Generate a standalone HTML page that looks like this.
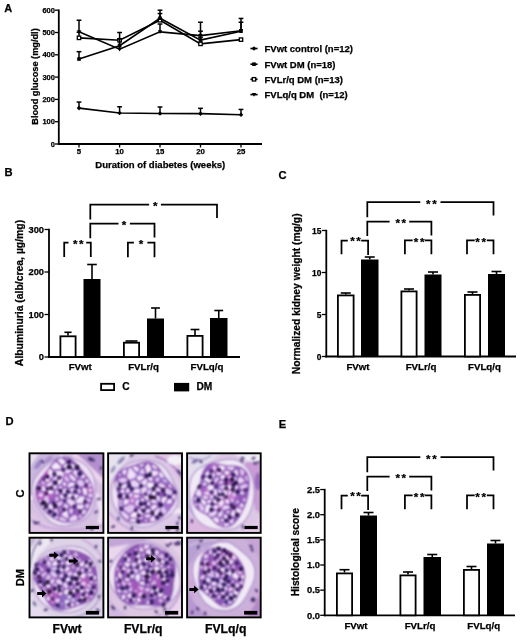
<!DOCTYPE html>
<html><head><meta charset="utf-8"><title>Figure</title>
<style>
html,body{margin:0;padding:0;background:#fff;}
svg{display:block}
text{font-family:"Liberation Sans",Arial,sans-serif;font-weight:bold;fill:#000;stroke:#000;stroke-width:0.25px}
</style></head><body>
<svg width="520" height="641" viewBox="0 0 520 641">
<rect width="520" height="641" fill="#fff"/>
<text x="4.2" y="12.3" font-size="11" text-anchor="start" >A</text>
<line x1="58.8" y1="9.5" x2="58.8" y2="144.9" stroke="#000" stroke-width="1.8" />
<line x1="57.9" y1="144" x2="262" y2="144" stroke="#000" stroke-width="1.8" />
<line x1="55.0" y1="144.0" x2="58.8" y2="144.0" stroke="#000" stroke-width="1.3" />
<text x="54.9" y="146.6" font-size="7.5" text-anchor="end" >0</text>
<line x1="55.0" y1="121.69999999999999" x2="58.8" y2="121.69999999999999" stroke="#000" stroke-width="1.3" />
<text x="54.9" y="124.29999999999998" font-size="7.5" text-anchor="end" >100</text>
<line x1="55.0" y1="99.39999999999999" x2="58.8" y2="99.39999999999999" stroke="#000" stroke-width="1.3" />
<text x="54.9" y="101.99999999999999" font-size="7.5" text-anchor="end" >200</text>
<line x1="55.0" y1="77.1" x2="58.8" y2="77.1" stroke="#000" stroke-width="1.3" />
<text x="54.9" y="79.69999999999999" font-size="7.5" text-anchor="end" >300</text>
<line x1="55.0" y1="54.79999999999998" x2="58.8" y2="54.79999999999998" stroke="#000" stroke-width="1.3" />
<text x="54.9" y="57.399999999999984" font-size="7.5" text-anchor="end" >400</text>
<line x1="55.0" y1="32.499999999999986" x2="58.8" y2="32.499999999999986" stroke="#000" stroke-width="1.3" />
<text x="54.9" y="35.09999999999999" font-size="7.5" text-anchor="end" >500</text>
<line x1="55.0" y1="10.199999999999989" x2="58.8" y2="10.199999999999989" stroke="#000" stroke-width="1.3" />
<text x="54.9" y="12.799999999999988" font-size="7.5" text-anchor="end" >600</text>
<line x1="79" y1="144" x2="79" y2="147.5" stroke="#000" stroke-width="1.3" />
<text x="79" y="154.4" font-size="7.8" text-anchor="middle" >5</text>
<line x1="119.6" y1="144" x2="119.6" y2="147.5" stroke="#000" stroke-width="1.3" />
<text x="119.6" y="154.4" font-size="7.8" text-anchor="middle" >10</text>
<line x1="160" y1="144" x2="160" y2="147.5" stroke="#000" stroke-width="1.3" />
<text x="160" y="154.4" font-size="7.8" text-anchor="middle" >15</text>
<line x1="200.5" y1="144" x2="200.5" y2="147.5" stroke="#000" stroke-width="1.3" />
<text x="200.5" y="154.4" font-size="7.8" text-anchor="middle" >20</text>
<line x1="241" y1="144" x2="241" y2="147.5" stroke="#000" stroke-width="1.3" />
<text x="241" y="154.4" font-size="7.8" text-anchor="middle" >25</text>
<text x="160.3" y="168" font-size="9.55" text-anchor="middle" >Duration of diabetes (weeks)</text>
<text x="37.7" y="76.5" font-size="9.2" text-anchor="middle" transform="rotate(-90 37.7 76.5)" >Blood glucose (mg/dl)</text>
<polyline points="79,31.83099999999999 119.6,49.22499999999998 160,31.83099999999999 200.5,35.621999999999986 241,30.71599999999998" fill="none" stroke="#000" stroke-width="1.6" stroke-linejoin="miter" />
<line x1="79" y1="31.83099999999999" x2="79" y2="20.234999999999985" stroke="#000" stroke-width="1.5" />
<line x1="76.6" y1="20.234999999999985" x2="81.4" y2="20.234999999999985" stroke="#000" stroke-width="1.5" />
<path d="M76.8 30.230999999999987L81.2 30.230999999999987L79 34.03099999999999Z" fill="#000"/>
<line x1="119.6" y1="49.22499999999998" x2="119.6" y2="40.30499999999998" stroke="#000" stroke-width="1.5" />
<line x1="117.19999999999999" y1="40.30499999999998" x2="122.0" y2="40.30499999999998" stroke="#000" stroke-width="1.5" />
<path d="M117.39999999999999 47.62499999999998L121.8 47.62499999999998L119.6 51.42499999999998Z" fill="#000"/>
<line x1="160" y1="31.83099999999999" x2="160" y2="24.02599999999999" stroke="#000" stroke-width="1.5" />
<line x1="157.6" y1="24.02599999999999" x2="162.4" y2="24.02599999999999" stroke="#000" stroke-width="1.5" />
<path d="M157.8 30.230999999999987L162.2 30.230999999999987L160 34.03099999999999Z" fill="#000"/>
<line x1="200.5" y1="35.621999999999986" x2="200.5" y2="22.241999999999983" stroke="#000" stroke-width="1.5" />
<line x1="198.1" y1="22.241999999999983" x2="202.9" y2="22.241999999999983" stroke="#000" stroke-width="1.5" />
<path d="M198.3 34.021999999999984L202.7 34.021999999999984L200.5 37.82199999999999Z" fill="#000"/>
<line x1="241" y1="30.71599999999998" x2="241" y2="18.45099999999998" stroke="#000" stroke-width="1.5" />
<line x1="238.6" y1="18.45099999999998" x2="243.4" y2="18.45099999999998" stroke="#000" stroke-width="1.5" />
<path d="M238.8 29.11599999999998L243.2 29.11599999999998L241 32.91599999999998Z" fill="#000"/>
<polyline points="79,37.85199999999999 119.6,40.30499999999998 160,20.234999999999985 200.5,43.87299999999999 241,39.63599999999998" fill="none" stroke="#000" stroke-width="1.6" stroke-linejoin="miter" />
<line x1="79" y1="37.85199999999999" x2="79" y2="32.27699999999999" stroke="#000" stroke-width="1.5" />
<line x1="76.6" y1="32.27699999999999" x2="81.4" y2="32.27699999999999" stroke="#000" stroke-width="1.5" />
<rect x="77.3" y="36.15199999999999" width="3.4" height="3.4" fill="#fff" stroke="#000" stroke-width="1.3" />
<line x1="119.6" y1="40.30499999999998" x2="119.6" y2="32.49999999999998" stroke="#000" stroke-width="1.5" />
<line x1="117.19999999999999" y1="32.49999999999998" x2="122.0" y2="32.49999999999998" stroke="#000" stroke-width="1.5" />
<rect x="117.89999999999999" y="38.604999999999976" width="3.4" height="3.4" fill="#fff" stroke="#000" stroke-width="1.3" />
<line x1="160" y1="20.234999999999985" x2="160" y2="13.544999999999984" stroke="#000" stroke-width="1.5" />
<line x1="157.6" y1="13.544999999999984" x2="162.4" y2="13.544999999999984" stroke="#000" stroke-width="1.5" />
<rect x="158.3" y="18.534999999999986" width="3.4" height="3.4" fill="#fff" stroke="#000" stroke-width="1.3" />
<line x1="200.5" y1="43.87299999999999" x2="200.5" y2="37.18299999999999" stroke="#000" stroke-width="1.5" />
<line x1="198.1" y1="37.18299999999999" x2="202.9" y2="37.18299999999999" stroke="#000" stroke-width="1.5" />
<rect x="198.8" y="42.17299999999999" width="3.4" height="3.4" fill="#fff" stroke="#000" stroke-width="1.3" />
<rect x="239.3" y="37.93599999999998" width="3.4" height="3.4" fill="#fff" stroke="#000" stroke-width="1.3" />
<polyline points="79,59.03699999999999 119.6,45.65699999999998 160,18.22799999999998 200.5,40.08199999999998 241,31.161999999999978" fill="none" stroke="#000" stroke-width="1.6" stroke-linejoin="miter" />
<line x1="79" y1="59.03699999999999" x2="79" y2="51.67799999999999" stroke="#000" stroke-width="1.5" />
<line x1="76.6" y1="51.67799999999999" x2="81.4" y2="51.67799999999999" stroke="#000" stroke-width="1.5" />
<rect x="77.2" y="57.236999999999995" width="3.6" height="3.6" fill="#000" />
<line x1="119.6" y1="45.65699999999998" x2="119.6" y2="38.966999999999985" stroke="#000" stroke-width="1.5" />
<line x1="117.19999999999999" y1="38.966999999999985" x2="122.0" y2="38.966999999999985" stroke="#000" stroke-width="1.5" />
<rect x="117.8" y="43.856999999999985" width="3.6" height="3.6" fill="#000" />
<line x1="160" y1="18.22799999999998" x2="160" y2="10.19999999999998" stroke="#000" stroke-width="1.5" />
<line x1="157.6" y1="10.19999999999998" x2="162.4" y2="10.19999999999998" stroke="#000" stroke-width="1.5" />
<rect x="158.2" y="16.42799999999998" width="3.6" height="3.6" fill="#000" />
<line x1="200.5" y1="40.08199999999998" x2="200.5" y2="31.161999999999978" stroke="#000" stroke-width="1.5" />
<line x1="198.1" y1="31.161999999999978" x2="202.9" y2="31.161999999999978" stroke="#000" stroke-width="1.5" />
<rect x="198.7" y="38.28199999999998" width="3.6" height="3.6" fill="#000" />
<line x1="241" y1="31.161999999999978" x2="241" y2="22.241999999999976" stroke="#000" stroke-width="1.5" />
<line x1="238.6" y1="22.241999999999976" x2="243.4" y2="22.241999999999976" stroke="#000" stroke-width="1.5" />
<rect x="239.2" y="29.361999999999977" width="3.6" height="3.6" fill="#000" />
<polyline points="79,108.097 119.6,113.003 160,113.449 200.5,113.672 241,114.78699999999999" fill="none" stroke="#000" stroke-width="1.6" stroke-linejoin="miter" />
<line x1="79" y1="108.097" x2="79" y2="102.076" stroke="#000" stroke-width="1.5" />
<line x1="76.6" y1="102.076" x2="81.4" y2="102.076" stroke="#000" stroke-width="1.5" />
<path d="M76.7 108.097L79 105.797L81.3 108.097L79 110.39699999999999Z" fill="#000"/>
<line x1="119.6" y1="113.003" x2="119.6" y2="106.759" stroke="#000" stroke-width="1.5" />
<line x1="117.19999999999999" y1="106.759" x2="122.0" y2="106.759" stroke="#000" stroke-width="1.5" />
<path d="M117.3 113.003L119.6 110.703L121.89999999999999 113.003L119.6 115.303Z" fill="#000"/>
<line x1="160" y1="113.449" x2="160" y2="106.982" stroke="#000" stroke-width="1.5" />
<line x1="157.6" y1="106.982" x2="162.4" y2="106.982" stroke="#000" stroke-width="1.5" />
<path d="M157.7 113.449L160 111.149L162.3 113.449L160 115.749Z" fill="#000"/>
<line x1="200.5" y1="113.672" x2="200.5" y2="108.32" stroke="#000" stroke-width="1.5" />
<line x1="198.1" y1="108.32" x2="202.9" y2="108.32" stroke="#000" stroke-width="1.5" />
<path d="M198.2 113.672L200.5 111.372L202.8 113.672L200.5 115.972Z" fill="#000"/>
<line x1="241" y1="114.78699999999999" x2="241" y2="109.43499999999999" stroke="#000" stroke-width="1.5" />
<line x1="238.6" y1="109.43499999999999" x2="243.4" y2="109.43499999999999" stroke="#000" stroke-width="1.5" />
<path d="M238.7 114.78699999999999L241 112.487L243.3 114.78699999999999L241 117.08699999999999Z" fill="#000"/>
<line x1="250.4" y1="48.5" x2="257.6" y2="48.5" stroke="#000" stroke-width="1.6" />
<path d="M251.7 48.5L254 46.2L256.3 48.5L254 50.8Z" fill="#000"/>
<text x="264.5" y="51.9" font-size="9.5" text-anchor="start" xml:space="preserve">FVwt control (n=12)</text>
<line x1="250.4" y1="64.2" x2="257.6" y2="64.2" stroke="#000" stroke-width="1.6" />
<rect x="252.2" y="62.400000000000006" width="3.6" height="3.6" fill="#000" />
<text x="264.5" y="67.60000000000001" font-size="9.5" text-anchor="start" xml:space="preserve">FVwt DM (n=18)</text>
<line x1="250.4" y1="79.3" x2="257.6" y2="79.3" stroke="#000" stroke-width="1.6" />
<rect x="252.3" y="77.6" width="3.4" height="3.4" fill="#fff" stroke="#000" stroke-width="1.3" />
<text x="264.5" y="82.7" font-size="9.5" text-anchor="start" xml:space="preserve">FVLr/q DM (n=13)</text>
<line x1="250.4" y1="94.6" x2="257.6" y2="94.6" stroke="#000" stroke-width="1.6" />
<path d="M251.8 93.0L256.2 93.0L254 96.8Z" fill="#000"/>
<text x="264.5" y="98.0" font-size="9.5" text-anchor="start" xml:space="preserve">FVLq/q DM  (n=12)</text>
<text x="4.5" y="176.1" font-size="11.2" text-anchor="start" >B</text>
<line x1="49" y1="228.8" x2="49" y2="357.9" stroke="#000" stroke-width="1.8" />
<line x1="48.1" y1="357" x2="240" y2="357" stroke="#000" stroke-width="1.8" />
<line x1="44.5" y1="357.0" x2="49" y2="357.0" stroke="#000" stroke-width="1.3" />
<text x="44" y="360.3" font-size="9.3" text-anchor="end" >0</text>
<line x1="44.5" y1="314.5" x2="49" y2="314.5" stroke="#000" stroke-width="1.3" />
<text x="44" y="317.8" font-size="9.3" text-anchor="end" >100</text>
<line x1="44.5" y1="272.0" x2="49" y2="272.0" stroke="#000" stroke-width="1.3" />
<text x="44" y="275.3" font-size="9.3" text-anchor="end" >200</text>
<line x1="44.5" y1="229.5" x2="49" y2="229.5" stroke="#000" stroke-width="1.3" />
<text x="44" y="232.8" font-size="9.3" text-anchor="end" >300</text>
<text x="22.8" y="293" font-size="10.4" text-anchor="middle" transform="rotate(-90 22.8 293)" >Albuminuria (alb/crea, µg/mg)</text>
<line x1="68.0" y1="335.4" x2="68.0" y2="332.3" stroke="#000" stroke-width="1.6" />
<line x1="64.4" y1="332.3" x2="71.6" y2="332.3" stroke="#000" stroke-width="1.6" />
<rect x="60.4" y="336.29999999999995" width="15.2" height="20.700000000000024" fill="#fff" stroke="#000" stroke-width="1.8" />
<line x1="92.0" y1="279" x2="92.0" y2="264.5" stroke="#000" stroke-width="1.6" />
<line x1="87.2" y1="264.5" x2="96.8" y2="264.5" stroke="#000" stroke-width="1.6" />
<rect x="83.5" y="279" width="17.0" height="78" fill="#000" />
<line x1="131.5" y1="341.8" x2="131.5" y2="341.0" stroke="#000" stroke-width="1.6" />
<line x1="125.5" y1="341.0" x2="137.5" y2="341.0" stroke="#000" stroke-width="1.6" />
<rect x="123.9" y="342.7" width="15.2" height="14.299999999999988" fill="#fff" stroke="#000" stroke-width="1.8" />
<line x1="155.5" y1="318.5" x2="155.5" y2="308" stroke="#000" stroke-width="1.6" />
<line x1="151.1" y1="308" x2="159.9" y2="308" stroke="#000" stroke-width="1.6" />
<rect x="147" y="318.5" width="17" height="38.5" fill="#000" />
<line x1="195.0" y1="335" x2="195.0" y2="329.5" stroke="#000" stroke-width="1.6" />
<line x1="190.6" y1="329.5" x2="199.4" y2="329.5" stroke="#000" stroke-width="1.6" />
<rect x="187.4" y="335.9" width="15.2" height="21.1" fill="#fff" stroke="#000" stroke-width="1.8" />
<line x1="218.75" y1="318" x2="218.75" y2="310.5" stroke="#000" stroke-width="1.6" />
<line x1="214.35" y1="310.5" x2="223.15" y2="310.5" stroke="#000" stroke-width="1.6" />
<rect x="210" y="318" width="17.5" height="39" fill="#000" />
<text x="80.2" y="369.6" font-size="9.7" text-anchor="middle" >FVwt</text>
<text x="143.5" y="369.6" font-size="9.7" text-anchor="middle" >FVLr/q</text>
<text x="207" y="369.6" font-size="9.7" text-anchor="middle" >FVLq/q</text>
<polyline points="90.3,219.5 90.3,204.5 149.1,204.5" fill="none" stroke="#000" stroke-width="1.75" stroke-linejoin="miter" />
<polyline points="160.9,204.5 217,204.5 217,218" fill="none" stroke="#000" stroke-width="1.75" stroke-linejoin="miter" />
<text x="152.94" y="210.13" font-size="11.6" text-anchor="start" letter-spacing="1.6">*</text>
<polyline points="90.3,238.3 90.3,223.5 118.5,223.5" fill="none" stroke="#000" stroke-width="1.75" stroke-linejoin="miter" />
<polyline points="129.9,223.5 154.5,223.5 154.5,237.4" fill="none" stroke="#000" stroke-width="1.75" stroke-linejoin="miter" />
<text x="121.84" y="229.13" font-size="11.6" text-anchor="start" letter-spacing="1.6">*</text>
<polyline points="64.2,257 64.2,242.7 68.5,242.7" fill="none" stroke="#000" stroke-width="1.75" stroke-linejoin="miter" />
<polyline points="86.2,242.7 90.8,242.7 90.8,257" fill="none" stroke="#000" stroke-width="1.75" stroke-linejoin="miter" />
<text x="72.98" y="248.33" font-size="11.6" text-anchor="start" letter-spacing="1.6">**</text>
<polyline points="127.9,257.2 127.9,242.5 133.9,242.5" fill="none" stroke="#000" stroke-width="1.75" stroke-linejoin="miter" />
<polyline points="147.4,242.5 154.5,242.5 154.5,257.2" fill="none" stroke="#000" stroke-width="1.75" stroke-linejoin="miter" />
<text x="138.84" y="248.13" font-size="11.6" text-anchor="start" letter-spacing="1.6">*</text>
<rect x="101.1" y="383.8" width="13" height="6.3" fill="#fff" stroke="#000" stroke-width="1.8" />
<text x="122.2" y="390.3" font-size="10.2" text-anchor="start" >C</text>
<rect x="174" y="382.9" width="15.2" height="8.5" fill="#000" />
<text x="196.4" y="390.3" font-size="10.2" text-anchor="start" >DM</text>
<text x="278.6" y="179.4" font-size="11.2" text-anchor="start" >C</text>
<line x1="326.3" y1="229.8" x2="326.3" y2="357.4" stroke="#000" stroke-width="1.8" />
<line x1="325.40000000000003" y1="356.5" x2="516" y2="356.5" stroke="#000" stroke-width="1.8" />
<line x1="321.8" y1="356.5" x2="326.3" y2="356.5" stroke="#000" stroke-width="1.3" />
<text x="321.3" y="359.7" font-size="8.4" text-anchor="end" >0</text>
<line x1="321.8" y1="314.5" x2="326.3" y2="314.5" stroke="#000" stroke-width="1.3" />
<text x="321.3" y="317.7" font-size="8.4" text-anchor="end" >5</text>
<line x1="321.8" y1="272.5" x2="326.3" y2="272.5" stroke="#000" stroke-width="1.3" />
<text x="321.3" y="275.7" font-size="8.4" text-anchor="end" >10</text>
<line x1="321.8" y1="230.5" x2="326.3" y2="230.5" stroke="#000" stroke-width="1.3" />
<text x="321.3" y="233.7" font-size="8.4" text-anchor="end" >15</text>
<text x="299.8" y="293.8" font-size="10.3" text-anchor="middle" transform="rotate(-90 299.8 293.8)" >Normalized kidney weight (mg/g)</text>
<line x1="345.75" y1="294.5" x2="345.75" y2="293" stroke="#000" stroke-width="1.6" />
<line x1="340.75" y1="293" x2="350.75" y2="293" stroke="#000" stroke-width="1.6" />
<rect x="337.9" y="295.4" width="15.7" height="61.1" fill="#fff" stroke="#000" stroke-width="1.8" />
<line x1="369.75" y1="259.5" x2="369.75" y2="257" stroke="#000" stroke-width="1.6" />
<line x1="364.75" y1="257" x2="374.75" y2="257" stroke="#000" stroke-width="1.6" />
<rect x="361" y="259.5" width="17.5" height="97.0" fill="#000" />
<line x1="409.0" y1="290.5" x2="409.0" y2="289" stroke="#000" stroke-width="1.6" />
<line x1="404.0" y1="289" x2="414.0" y2="289" stroke="#000" stroke-width="1.6" />
<rect x="401.4" y="291.4" width="15.2" height="65.1" fill="#fff" stroke="#000" stroke-width="1.8" />
<line x1="433.0" y1="274.5" x2="433.0" y2="272" stroke="#000" stroke-width="1.6" />
<line x1="428.0" y1="272" x2="438.0" y2="272" stroke="#000" stroke-width="1.6" />
<rect x="424.5" y="274.5" width="17.0" height="82.0" fill="#000" />
<line x1="472.5" y1="294" x2="472.5" y2="292" stroke="#000" stroke-width="1.6" />
<line x1="467.5" y1="292" x2="477.5" y2="292" stroke="#000" stroke-width="1.6" />
<rect x="464.9" y="294.9" width="15.2" height="61.6" fill="#fff" stroke="#000" stroke-width="1.8" />
<line x1="496.5" y1="274" x2="496.5" y2="271.5" stroke="#000" stroke-width="1.6" />
<line x1="491.5" y1="271.5" x2="501.5" y2="271.5" stroke="#000" stroke-width="1.6" />
<rect x="488" y="274" width="17" height="82.5" fill="#000" />
<text x="358" y="370" font-size="9.7" text-anchor="middle" >FVwt</text>
<text x="421" y="370" font-size="9.7" text-anchor="middle" >FVLr/q</text>
<text x="484.5" y="370" font-size="9.7" text-anchor="middle" >FVLq/q</text>
<polyline points="367.3,217.2 367.3,202.2 420.3,202.2" fill="none" stroke="#000" stroke-width="1.75" stroke-linejoin="miter" />
<polyline points="440.5,202.2 493.5,202.2 493.5,215.5" fill="none" stroke="#000" stroke-width="1.75" stroke-linejoin="miter" />
<text x="426.08" y="207.83" font-size="11.6" text-anchor="start" letter-spacing="1.6">**</text>
<polyline points="367.3,236 367.3,221.6 389.6,221.6" fill="none" stroke="#000" stroke-width="1.75" stroke-linejoin="miter" />
<polyline points="409.2,221.6 431.4,221.6 431.4,235.4" fill="none" stroke="#000" stroke-width="1.75" stroke-linejoin="miter" />
<text x="395.38" y="227.23" font-size="11.6" text-anchor="start" letter-spacing="1.6">**</text>
<polyline points="341.5,254.2 341.5,240.5 347.8,240.5" fill="none" stroke="#000" stroke-width="1.75" stroke-linejoin="miter" />
<polyline points="361.2,240.5 368.1,240.5 368.1,254.9" fill="none" stroke="#000" stroke-width="1.75" stroke-linejoin="miter" />
<text x="350.18" y="245.33" font-size="11.6" text-anchor="start" letter-spacing="1.6">**</text>
<polyline points="404.9,254.2 404.9,240.3 412.6,240.3" fill="none" stroke="#000" stroke-width="1.75" stroke-linejoin="miter" />
<polyline points="424.7,240.3 431.4,240.3 431.4,254.2" fill="none" stroke="#000" stroke-width="1.75" stroke-linejoin="miter" />
<text x="413.78" y="245.53" font-size="11.6" text-anchor="start" letter-spacing="1.6">**</text>
<polyline points="467,254.2 467,240.3 474.7,240.3" fill="none" stroke="#000" stroke-width="1.75" stroke-linejoin="miter" />
<polyline points="486.8,240.3 493.5,240.3 493.5,254.2" fill="none" stroke="#000" stroke-width="1.75" stroke-linejoin="miter" />
<text x="475.28" y="245.53" font-size="11.6" text-anchor="start" letter-spacing="1.6">**</text>
<text x="5.4" y="425.3" font-size="11.2" text-anchor="start" >D</text>
<filter id="bl" x="-5%" y="-5%" width="110%" height="110%"><feGaussianBlur stdDeviation="0.8"/></filter><filter id="bl2" x="-5%" y="-5%" width="110%" height="110%"><feGaussianBlur stdDeviation="0.8"/></filter>
<clipPath id="cp1"><rect x="29.5" y="453.3" width="73.9" height="79.6"/></clipPath>
<g clip-path="url(#cp1)"><g filter="url(#bl)">
<rect x="27.5" y="451.3" width="77.9" height="83.6" fill="#d6c0e2" />
<g transform="translate(29.5 453.3)"><path d="M0 0H36L0 48Z" fill="#c9b6de"/><path d="M0 0H10L0 14Z" fill="#e6def0"/><ellipse cx="9" cy="11" rx="6" ry="2.5" fill="#9c84c4" transform="rotate(-52 9 11)"/><ellipse cx="19" cy="6" rx="5" ry="2" fill="#a58cca" transform="rotate(-40 19 6)"/><path d="M1 46L33 2" stroke="#f2eaf7" stroke-width="3.2"/><path d="M46 0H75V34Z" fill="#b38fcd"/><path d="M44 1L75 30" stroke="#ead4ee" stroke-width="5.5"/><ellipse cx="62" cy="6" rx="4" ry="1.6" fill="#4a3278" transform="rotate(25 62 6)"/><path d="M0 56Q18 74 45 78T75 64V80H0Z" fill="#dec4e6"/><path d="M0 66Q25 84 75 72" stroke="#b690d2" stroke-width="1.3" fill="none"/><path d="M66 40Q75 55 70 70" stroke="#f0e4f4" stroke-width="4" fill="none"/></g>
<path d="M94.8 482.3 L95.3 486.7 L95.4 491.1 L95.3 495.3 L94.9 499.6 L94.2 503.8 L93.0 508.0 L91.2 511.8 L88.7 515.3 L85.8 518.2 L82.4 520.5 L78.8 522.4 L75.0 523.9 L71.1 525.1 L67.1 525.9 L62.9 526.1 L58.6 525.6 L54.5 524.2 L50.7 521.9 L47.4 518.9 L44.5 515.6 L41.9 512.0 L39.4 508.5 L37.1 504.7 L35.0 500.8 L33.3 496.5 L32.2 492.0 L32.1 487.3 L33.0 482.9 L34.8 478.7 L37.1 475.1 L39.8 471.9 L42.5 469.0 L45.3 466.2 L48.3 463.6 L51.5 461.2 L55.0 459.1 L58.8 457.7 L62.9 457.1 L67.1 457.1 L71.3 457.9 L75.4 459.2 L79.4 461.0 L83.1 463.3 L86.6 466.2 L89.6 469.6 L92.0 473.6 L93.8 477.8Z" fill="#ede2f3" stroke="#a887c9" stroke-width="1.1"/>
<clipPath id="tc1"><path d="M91.7 483.2 L93.0 487.1 L93.7 491.2 L93.7 495.2 L93.1 499.2 L92.1 503.1 L90.7 506.8 L89.0 510.3 L86.9 513.6 L84.4 516.5 L81.4 519.0 L78.1 520.9 L74.5 522.1 L70.7 522.8 L67.0 522.8 L63.2 522.4 L59.5 521.5 L55.9 520.1 L52.5 518.3 L49.3 516.1 L46.3 513.6 L43.5 510.7 L41.0 507.5 L38.7 504.0 L36.8 500.2 L35.5 496.1 L35.0 491.9 L35.4 487.7 L36.6 483.7 L38.6 480.2 L40.8 477.2 L43.2 474.4 L45.4 471.8 L47.6 469.0 L49.7 465.9 L52.2 462.7 L55.2 459.8 L58.8 457.7 L62.8 456.8 L67.0 457.2 L71.0 458.8 L74.6 461.3 L77.6 464.3 L80.3 467.4 L82.8 470.4 L85.3 473.4 L87.7 476.4 L89.9 479.6Z"/></clipPath>
<path d="M91.7 483.2 L93.0 487.1 L93.7 491.2 L93.7 495.2 L93.1 499.2 L92.1 503.1 L90.7 506.8 L89.0 510.3 L86.9 513.6 L84.4 516.5 L81.4 519.0 L78.1 520.9 L74.5 522.1 L70.7 522.8 L67.0 522.8 L63.2 522.4 L59.5 521.5 L55.9 520.1 L52.5 518.3 L49.3 516.1 L46.3 513.6 L43.5 510.7 L41.0 507.5 L38.7 504.0 L36.8 500.2 L35.5 496.1 L35.0 491.9 L35.4 487.7 L36.6 483.7 L38.6 480.2 L40.8 477.2 L43.2 474.4 L45.4 471.8 L47.6 469.0 L49.7 465.9 L52.2 462.7 L55.2 459.8 L58.8 457.7 L62.8 456.8 L67.0 457.2 L71.0 458.8 L74.6 461.3 L77.6 464.3 L80.3 467.4 L82.8 470.4 L85.3 473.4 L87.7 476.4 L89.9 479.6Z" fill="#9058b8"/>
<g clip-path="url(#tc1)">
<ellipse cx="90.6" cy="488.3" rx="7.3" ry="5.5" fill="#c868cc" opacity="0.6"/>
<ellipse cx="47.9" cy="473.0" rx="4.3" ry="3.1" fill="#c868cc" opacity="0.6"/>
<ellipse cx="46.2" cy="476.5" rx="5.6" ry="5.4" fill="#c868cc" opacity="0.6"/>
<ellipse cx="44.1" cy="488.7" rx="6.5" ry="5.6" fill="#c078d0" opacity="0.6"/>
<ellipse cx="55.6" cy="476.2" rx="6.8" ry="6.7" fill="#a56ecc" opacity="0.6"/>
<ellipse cx="61.1" cy="475.8" rx="5.1" ry="4.2" fill="#a56ecc" opacity="0.6"/>
<ellipse cx="57.0" cy="487.8" rx="4.5" ry="4.2" fill="#a56ecc" opacity="0.6"/>
<ellipse cx="88.4" cy="484.5" rx="4.0" ry="3.8" fill="#a56ecc" opacity="0.6"/>
<ellipse cx="39.4" cy="496.9" rx="6.0" ry="3.3" fill="#c868cc" opacity="0.6"/>
<ellipse cx="67.4" cy="476.7" rx="4.4" ry="4.3" fill="#c078d0" opacity="0.6"/>
<ellipse cx="65.5" cy="481.5" rx="5.2" ry="3.4" fill="#a56ecc" opacity="0.6"/>
<ellipse cx="47.1" cy="495.9" rx="7.4" ry="3.8" fill="#c868cc" opacity="0.6"/>
</g>
<path d="M62.3 479.7 L61.8 478.4 L59.9 478.6 L56.8 482.2 L56.8 483.0 L58.2 484.3 L60.5 483.8Z" fill="#f6ecfb"/>
<path d="M91.2 497.2 L92.2 496.7 L92.2 493.8 L91.6 493.6 L88.6 494.5 L88.0 495.3 L88.2 496.0Z" fill="#f0e0f8"/>
<path d="M71.6 497.4 L72.3 496.9 L72.5 493.9 L68.8 492.7 L68.1 492.8 L66.5 495.6 L66.7 497.3 L67.2 497.6Z" fill="#f0e0f8"/>
<path d="M71.5 508.3 L69.6 510.3 L70.2 513.3 L70.8 513.8 L72.1 512.8 L72.6 508.9 L72.2 508.4Z" fill="#f0e0f8"/>
<path d="M47.1 495.6 L46.2 495.8 L43.8 499.5 L44.7 502.0 L46.2 502.9 L48.7 502.1 L49.1 501.6 L47.8 496.2Z" fill="#e0c8f0"/>
<path d="M71.2 463.4 L70.6 463.4 L70.2 463.9 L70.5 466.5 L73.3 468.1 L75.4 467.2 L75.3 466.2Z" fill="#f0e0f8"/>
<path d="M42.0 483.8 L44.5 484.4 L45.2 483.9 L45.1 483.4 L43.4 480.8 L42.8 480.8 L41.4 482.1Z" fill="#e0c8f0"/>
<path d="M75.8 479.9 L75.7 479.1 L71.4 474.7 L70.8 474.6 L69.4 475.4 L69.4 476.1 L72.4 480.3 L74.9 480.9Z" fill="#f3e6f9"/>
<path d="M61.9 464.7 L62.9 464.8 L65.3 462.4 L65.4 461.7 L62.1 458.5 L59.3 459.0 L58.1 459.7 L58.0 460.5Z" fill="#f3e6f9"/>
<path d="M66.8 491.7 L66.6 489.2 L66.0 488.6 L64.9 488.5 L61.4 491.5 L61.7 492.1 L65.0 494.0 L65.6 493.7Z" fill="#f0e0f8"/>
<path d="M40.6 488.4 L40.9 489.8 L44.7 491.0 L45.4 490.7 L46.0 488.9 L45.2 487.2 L44.7 486.9 L42.1 486.7Z" fill="#f0e0f8"/>
<path d="M89.1 504.3 L85.5 503.5 L85.1 504.0 L85.9 507.4 L87.1 508.6 L87.7 508.7 L89.2 506.1 L89.5 504.8Z" fill="#e0c8f0"/>
<path d="M47.6 492.1 L47.8 492.8 L49.3 493.7 L52.4 493.4 L53.0 492.9 L53.1 491.2 L50.5 489.4 L48.6 489.9Z" fill="#f6ecfb"/>
<path d="M47.4 483.7 L46.8 485.7 L47.8 487.5 L48.5 487.7 L50.7 487.1 L53.0 482.9 L51.1 481.4Z" fill="#e8d4f4"/>
<path d="M53.9 516.5 L54.0 517.5 L56.8 519.0 L57.4 518.7 L58.2 516.9 L57.8 516.2 L55.1 515.6Z" fill="#e8d4f4"/>
<path d="M45.1 506.2 L45.0 505.1 L43.7 504.3 L41.7 505.5 L42.1 506.6 L43.5 508.0 L44.1 507.8Z" fill="#f0e0f8"/>
<path d="M86.4 482.6 L87.3 482.9 L88.7 481.6 L88.3 480.5 L87.0 479.0 L85.4 480.1Z" fill="#f6ecfb"/>
<path d="M66.8 508.4 L68.3 507.0 L68.4 506.4 L65.8 503.5 L65.1 503.4 L63.6 506.5 L64.7 508.3Z" fill="#e8d4f4"/>
<path d="M62.7 470.9 L62.0 470.4 L55.2 471.4 L54.6 472.2 L55.1 473.6 L59.6 476.8 L62.1 476.7 L63.9 474.5Z" fill="#f0e0f8"/>
<path d="M83.6 474.1 L80.8 475.0 L80.3 476.9 L80.7 477.7 L83.3 478.2 L85.3 476.8 L85.3 476.1Z" fill="#e8d4f4"/>
<path d="M66.0 500.1 L66.1 500.8 L70.8 505.7 L73.9 505.7 L75.0 504.3 L74.3 500.7 L72.6 499.0 L66.8 499.2Z" fill="#e8d4f4"/>
<path d="M51.1 503.9 L47.5 505.1 L47.1 505.7 L50.4 510.4 L50.9 510.7 L51.8 510.4 L54.0 506.0 L53.2 504.3Z" fill="#e8d4f4"/>
<path d="M45.6 509.6 L45.6 510.4 L47.1 511.9 L48.1 511.9 L48.2 511.1 L46.8 509.2 L46.1 509.1Z" fill="#e8d4f4"/>
<path d="M77.4 490.8 L77.5 491.4 L79.4 493.0 L80.4 492.9 L79.5 489.3 L78.0 489.1Z" fill="#f0e0f8"/>
<path d="M89.7 488.6 L88.9 489.2 L89.3 491.5 L89.9 491.9 L91.4 491.5 L91.8 490.9 L91.4 489.0Z" fill="#f0e0f8"/>
<path d="M53.1 479.2 L53.3 480.0 L54.3 480.9 L54.9 480.9 L57.1 478.5 L57.1 477.8 L55.4 476.4 L54.8 476.4Z" fill="#e8d4f4"/>
<path d="M70.1 517.9 L69.2 519.7 L69.6 521.1 L70.1 521.4 L74.1 520.8 L76.8 519.9 L77.2 519.4 L76.9 516.1 L74.1 515.0Z" fill="#e8d4f4"/>
<path d="M64.5 482.3 L63.5 482.3 L62.8 484.1 L64.5 486.1 L65.1 486.2 L65.7 485.7 L66.0 483.8Z" fill="#f6ecfb"/>
<path d="M55.5 493.5 L55.9 494.2 L57.2 494.2 L59.1 492.4 L59.1 491.6 L57.6 490.5 L56.0 491.1Z" fill="#e8d4f4"/>
<path d="M77.3 485.1 L77.7 485.6 L81.1 486.6 L84.1 485.5 L84.5 484.8 L82.7 480.6 L79.2 479.8 L78.4 480.2 L77.0 482.5Z" fill="#e0c8f0"/>
<path d="M38.7 494.9 L38.8 496.0 L41.2 496.7 L42.8 494.4 L42.4 493.8 L40.4 493.3Z" fill="#f6ecfb"/>
<path d="M54.9 513.5 L57.6 514.3 L58.3 513.7 L56.6 508.0 L56.0 507.5 L55.3 507.9 L53.5 511.4Z" fill="#e0c8f0"/>
<path d="M55.3 500.3 L55.5 500.9 L56.1 501.1 L58.6 499.6 L58.6 499.0 L57.0 496.7 L56.0 497.1Z" fill="#e8d4f4"/>
<path d="M76.3 500.2 L76.0 500.9 L76.9 503.3 L83.2 502.7 L84.2 501.5 L84.4 497.4 L83.0 496.5 L80.4 496.6Z" fill="#f3e6f9"/>
<path d="M67.2 518.1 L68.0 518.0 L68.3 517.2 L67.1 511.0 L66.5 510.5 L64.7 510.5 L61.8 515.2Z" fill="#f3e6f9"/>
<path d="M68.4 484.1 L68.0 487.0 L68.6 487.2 L74.5 485.3 L74.9 484.8 L74.7 483.5 L71.5 482.6Z" fill="#f6ecfb"/>
<path d="M85.1 509.9 L84.3 509.7 L81.4 511.7 L81.3 512.9 L83.6 514.3 L84.3 514.2 L86.4 511.4Z" fill="#e8d4f4"/>
<path d="M64.4 496.7 L61.1 494.4 L60.5 494.6 L59.6 495.7 L61.6 498.8 L64.1 499.0 L64.6 498.1Z" fill="#f0e0f8"/>
<path d="M51.6 466.5 L51.6 467.4 L54.0 469.3 L60.7 468.5 L61.2 467.9 L61.0 466.9 L56.1 461.9 L53.6 463.9Z" fill="#f6ecfb"/>
<path d="M55.9 505.0 L57.6 506.0 L61.1 505.4 L62.8 501.7 L62.3 501.3 L60.7 501.2 L55.9 503.8Z" fill="#e0c8f0"/>
<path d="M55.5 484.5 L54.5 484.5 L52.8 487.3 L53.0 488.0 L54.6 489.0 L56.6 487.9 L56.7 485.8Z" fill="#e8d4f4"/>
<path d="M67.5 459.1 L66.8 459.3 L66.6 460.1 L67.4 460.8 L68.5 460.8 L68.7 459.8Z" fill="#e0c8f0"/>
<path d="M65.2 470.2 L64.8 470.9 L65.6 473.1 L66.8 473.6 L70.5 472.1 L71.5 470.2 L71.2 469.6 L69.1 468.5Z" fill="#e8d4f4"/>
<path d="M50.2 513.5 L50.1 514.3 L51.4 515.3 L52.0 515.4 L52.5 514.9 L52.5 514.2 L51.6 513.1 L50.7 513.0Z" fill="#f0e0f8"/>
<path d="M76.1 505.9 L76.2 506.8 L80.1 509.9 L83.6 507.5 L83.1 505.1 L82.6 504.6 L76.8 505.2Z" fill="#f0e0f8"/>
<path d="M79.3 515.7 L79.1 517.4 L79.7 517.9 L80.5 517.7 L81.9 516.3 L81.7 515.7 L80.5 515.0Z" fill="#f3e6f9"/>
<path d="M38.1 485.1 L38.2 485.8 L38.8 486.0 L39.7 484.9 L38.9 484.1Z" fill="#f6ecfb"/>
<path d="M66.6 476.4 L65.3 476.2 L64.2 478.0 L64.6 479.0 L67.3 481.6 L67.9 481.7 L69.2 481.1 L69.4 480.4Z" fill="#e0c8f0"/>
<path d="M84.1 494.6 L85.5 495.3 L86.9 493.4 L86.2 488.0 L85.7 487.5 L83.0 488.4 L82.7 488.9Z" fill="#f6ecfb"/>
<path d="M74.3 470.2 L73.0 472.5 L73.0 473.1 L77.0 477.2 L77.7 477.2 L78.7 473.9 L76.8 469.7 L76.1 469.3Z" fill="#e8d4f4"/>
<path d="M49.4 480.5 L49.6 479.6 L47.3 477.7 L45.1 479.1 L46.8 482.0Z" fill="#f6ecfb"/>
<path d="M87.5 498.1 L86.6 498.5 L86.6 500.7 L89.7 501.9 L90.3 501.8 L90.8 499.5Z" fill="#e0c8f0"/>
<path d="M60.2 510.3 L61.0 510.7 L61.7 510.0 L61.7 509.3 L61.1 508.5 L59.9 508.8Z" fill="#e0c8f0"/>
<path d="M74.5 493.5 L73.8 497.7 L75.2 498.9 L78.3 496.4 L78.5 495.7 L75.6 493.1Z" fill="#f0e0f8"/>
<path d="M87.8 485.2 L87.6 485.9 L88.1 486.4 L90.7 486.6 L91.3 486.1 L90.7 483.9 L90.2 483.5 L89.6 483.6Z" fill="#f0e0f8"/>
<path d="M53.3 474.1 L52.6 471.3 L50.0 469.0 L49.2 469.1 L48.4 470.2 L48.3 476.3 L50.4 478.0 L51.0 478.1Z" fill="#f3e6f9"/>
<path d="M62.2 488.0 L62.4 487.1 L61.1 485.8 L58.9 486.4 L58.8 488.4 L60.0 489.3 L60.6 489.3Z" fill="#e0c8f0"/>
<path d="M63.6 467.4 L64.5 468.0 L67.9 466.5 L68.1 465.9 L67.8 463.6 L66.8 463.6 L63.7 466.6Z" fill="#f6ecfb"/>
<path d="M39.8 499.7 L39.1 499.9 L38.9 500.6 L40.1 503.0 L40.8 503.3 L41.8 502.7 L41.9 502.1 L41.2 500.3Z" fill="#e0c8f0"/>
<path d="M74.2 491.0 L74.7 488.1 L74.0 487.9 L69.3 489.4 L68.9 490.3 L69.4 490.8 L73.3 491.8Z" fill="#f0e0f8"/>
<path d="M61.0 517.2 L60.1 517.5 L59.4 519.1 L59.7 519.8 L63.5 520.8 L65.9 521.1 L66.5 520.8 L66.3 519.8Z" fill="#f0e0f8"/>
</g><g filter="url(#bl2)">
<ellipse cx="46.1" cy="506.3" rx="2.4" ry="1.5" fill="#140826" transform="rotate(143 46.1 506.3)"/>
<ellipse cx="76.6" cy="486.6" rx="2.4" ry="1.6" fill="#281656" transform="rotate(97 76.6 486.6)"/>
<ellipse cx="77.0" cy="467.6" rx="2.5" ry="1.9" fill="#140826" transform="rotate(83 77.0 467.6)"/>
<ellipse cx="47.5" cy="488.7" rx="1.8" ry="1.5" fill="#24124a" transform="rotate(48 47.5 488.7)"/>
<ellipse cx="72.9" cy="498.1" rx="2.2" ry="1.3" fill="#1c0c38" transform="rotate(79 72.9 498.1)"/>
<ellipse cx="85.0" cy="501.9" rx="2.1" ry="1.5" fill="#281656" transform="rotate(82 85.0 501.9)"/>
<ellipse cx="79.8" cy="473.8" rx="2.4" ry="2.3" fill="#2e1a5a" transform="rotate(149 79.8 473.8)"/>
<ellipse cx="68.9" cy="462.0" rx="2.1" ry="2.0" fill="#24124a" transform="rotate(42 68.9 462.0)"/>
<ellipse cx="53.5" cy="503.3" rx="1.8" ry="1.6" fill="#2e1a5a" transform="rotate(49 53.5 503.3)"/>
<ellipse cx="86.2" cy="485.7" rx="2.0" ry="1.5" fill="#2e1a5a" transform="rotate(105 86.2 485.7)"/>
<ellipse cx="60.3" cy="490.9" rx="2.1" ry="1.5" fill="#140826" transform="rotate(41 60.3 490.9)"/>
<ellipse cx="46.2" cy="493.3" rx="1.7" ry="1.6" fill="#140826" transform="rotate(170 46.2 493.3)"/>
<ellipse cx="43.7" cy="478.9" rx="1.9" ry="1.2" fill="#281656" transform="rotate(83 43.7 478.9)"/>
<ellipse cx="47.2" cy="476.6" rx="2.3" ry="1.9" fill="#24124a" transform="rotate(13 47.2 476.6)"/>
<ellipse cx="64.8" cy="500.6" rx="1.8" ry="1.3" fill="#2e1a5a" transform="rotate(20 64.8 500.6)"/>
<ellipse cx="80.1" cy="511.3" rx="1.8" ry="1.2" fill="#140826" transform="rotate(80 80.1 511.3)"/>
<ellipse cx="54.3" cy="473.9" rx="2.0" ry="1.8" fill="#1c0c38" transform="rotate(92 54.3 473.9)"/>
<ellipse cx="67.9" cy="491.7" rx="2.4" ry="1.6" fill="#281656" transform="rotate(29 67.9 491.7)"/>
<ellipse cx="54.5" cy="514.6" rx="2.3" ry="1.9" fill="#281656" transform="rotate(134 54.5 514.6)"/>
<ellipse cx="55.2" cy="506.0" rx="2.3" ry="2.0" fill="#140826" transform="rotate(95 55.2 506.0)"/>
<ellipse cx="64.0" cy="509.7" rx="1.8" ry="1.6" fill="#1c0c38" transform="rotate(49 64.0 509.7)"/>
<ellipse cx="43.5" cy="503.0" rx="2.5" ry="2.2" fill="#140826" transform="rotate(177 43.5 503.0)"/>
<ellipse cx="65.6" cy="495.5" rx="2.2" ry="1.5" fill="#281656" transform="rotate(118 65.6 495.5)"/>
<ellipse cx="74.5" cy="506.5" rx="1.9" ry="1.7" fill="#24124a" transform="rotate(131 74.5 506.5)"/>
<ellipse cx="55.3" cy="482.7" rx="2.2" ry="2.0" fill="#1c0c38" transform="rotate(166 55.3 482.7)"/>
<ellipse cx="38.9" cy="488.3" rx="2.4" ry="1.8" fill="#1c0c38" transform="rotate(12 38.9 488.3)"/>
<ellipse cx="63.1" cy="469.7" rx="1.8" ry="1.4" fill="#24124a" transform="rotate(113 63.1 469.7)"/>
<ellipse cx="75.3" cy="491.8" rx="2.2" ry="1.4" fill="#281656" transform="rotate(47 75.3 491.8)"/>
<ellipse cx="69.3" cy="467.0" rx="2.4" ry="2.1" fill="#140826" transform="rotate(35 69.3 467.0)"/>
<ellipse cx="50.1" cy="511.7" rx="2.3" ry="2.0" fill="#2e1a5a" transform="rotate(21 50.1 511.7)"/>
<ellipse cx="51.1" cy="488.0" rx="1.8" ry="1.6" fill="#140826" transform="rotate(24 51.1 488.0)"/>
<ellipse cx="59.5" cy="477.7" rx="2.1" ry="1.4" fill="#1c0c38" transform="rotate(118 59.5 477.7)"/>
<ellipse cx="37.6" cy="522.7" rx="2.1" ry="1.1" fill="#43306e" transform="rotate(165 37.6 522.7)"/>
<ellipse cx="91.7" cy="528.7" rx="2.1" ry="1.1" fill="#43306e" transform="rotate(64 91.7 528.7)"/>
<ellipse cx="90.5" cy="459.5" rx="2.1" ry="1.1" fill="#43306e" transform="rotate(7 90.5 459.5)"/>
<ellipse cx="34.9" cy="522.6" rx="2.1" ry="1.1" fill="#43306e" transform="rotate(53 34.9 522.6)"/>
<ellipse cx="101.2" cy="468.0" rx="2.1" ry="1.1" fill="#43306e" transform="rotate(81 101.2 468.0)"/>
<ellipse cx="98.8" cy="499.0" rx="2.1" ry="1.1" fill="#43306e" transform="rotate(159 98.8 499.0)"/>
<ellipse cx="42.6" cy="461.7" rx="2.1" ry="1.1" fill="#43306e" transform="rotate(45 42.6 461.7)"/>
<ellipse cx="96.1" cy="512.0" rx="2.1" ry="1.1" fill="#43306e" transform="rotate(142 96.1 512.0)"/>
</g>
<rect x="85.8" y="525.9" width="13.2" height="3.2" fill="#000" />
</g>
<rect x="29.5" y="453.3" width="73.9" height="79.6" fill="none" stroke="#000" stroke-width="1.9" />
<clipPath id="cp2"><rect x="108.1" y="453.3" width="73.9" height="79.6"/></clipPath>
<g clip-path="url(#cp2)"><g filter="url(#bl)">
<rect x="106.1" y="451.3" width="77.9" height="83.6" fill="#dccae6" />
<g transform="translate(108.1 453.3)"><path d="M0 0H24L13 14L0 30Z" fill="#e6e2ee"/><ellipse cx="13" cy="7" rx="5" ry="2" fill="#8c84b6" transform="rotate(-45 13 7)"/><ellipse cx="5" cy="16" rx="4" ry="1.8" fill="#9a90c0" transform="rotate(-60 5 16)"/><path d="M44 0H75V36L62 14Z" fill="#e2c4e6"/><path d="M47 3Q66 8 75 28" stroke="#9466b8" stroke-width="1.7" fill="none"/><ellipse cx="67" cy="7" rx="8" ry="5" fill="#f3eff7"/><ellipse cx="71" cy="19" rx="3.5" ry="2" fill="#5a3c88" transform="rotate(50 71 19)"/><path d="M0 54Q10 72 30 80H0Z" fill="#e4cce8"/><path d="M0 58Q12 74 32 80" stroke="#b48cd0" stroke-width="1.3" fill="none"/><path d="M45 80L75 58V80Z" fill="#dcc6e6"/><path d="M58 62Q68 56 75 58" stroke="#f2eaf6" stroke-width="4" fill="none"/></g>
<path d="M177.6 493.4 L178.2 497.9 L177.8 502.4 L176.4 506.8 L174.1 510.7 L171.0 514.0 L167.5 516.7 L163.9 519.1 L160.2 521.2 L156.5 523.1 L152.6 524.9 L148.5 526.2 L144.2 527.0 L139.8 527.0 L135.4 526.1 L131.3 524.5 L127.6 522.2 L124.2 519.5 L121.2 516.4 L118.4 513.2 L116.1 509.6 L114.1 505.9 L112.6 501.9 L111.7 497.7 L111.4 493.4 L111.6 489.1 L112.3 484.9 L113.5 480.7 L115.2 476.7 L117.5 472.9 L120.3 469.5 L123.6 466.6 L127.4 464.3 L131.5 462.6 L135.6 461.5 L139.9 460.7 L144.2 460.4 L148.5 460.4 L152.9 461.0 L157.1 462.3 L161.0 464.3 L164.4 467.1 L167.2 470.4 L169.5 474.0 L171.5 477.7 L173.2 481.4 L174.8 485.2 L176.4 489.2Z" fill="#ede2f3" stroke="#a887c9" stroke-width="1.1"/>
<clipPath id="tc2"><path d="M176.4 493.4 L176.3 497.6 L175.2 501.7 L173.2 505.4 L170.8 508.8 L168.3 511.9 L165.6 514.8 L162.7 517.5 L159.4 519.8 L155.9 521.6 L152.1 522.7 L148.1 523.3 L144.2 523.5 L140.2 523.5 L136.2 523.4 L132.0 522.8 L127.9 521.6 L124.2 519.5 L121.3 516.3 L119.4 512.4 L118.6 508.2 L118.5 504.0 L118.6 500.3 L118.3 496.8 L117.5 493.4 L116.2 489.7 L115.0 485.6 L114.5 481.1 L115.4 476.8 L117.6 473.0 L120.8 470.0 L124.7 468.0 L128.7 466.6 L132.6 465.3 L136.3 464.0 L140.2 462.7 L144.2 461.7 L148.4 461.5 L152.5 462.4 L156.2 464.5 L159.2 467.5 L161.6 470.8 L163.6 474.0 L165.7 476.9 L168.1 479.6 L170.7 482.4 L173.3 485.6 L175.4 489.3Z"/></clipPath>
<path d="M176.4 493.4 L176.3 497.6 L175.2 501.7 L173.2 505.4 L170.8 508.8 L168.3 511.9 L165.6 514.8 L162.7 517.5 L159.4 519.8 L155.9 521.6 L152.1 522.7 L148.1 523.3 L144.2 523.5 L140.2 523.5 L136.2 523.4 L132.0 522.8 L127.9 521.6 L124.2 519.5 L121.3 516.3 L119.4 512.4 L118.6 508.2 L118.5 504.0 L118.6 500.3 L118.3 496.8 L117.5 493.4 L116.2 489.7 L115.0 485.6 L114.5 481.1 L115.4 476.8 L117.6 473.0 L120.8 470.0 L124.7 468.0 L128.7 466.6 L132.6 465.3 L136.3 464.0 L140.2 462.7 L144.2 461.7 L148.4 461.5 L152.5 462.4 L156.2 464.5 L159.2 467.5 L161.6 470.8 L163.6 474.0 L165.7 476.9 L168.1 479.6 L170.7 482.4 L173.3 485.6 L175.4 489.3Z" fill="#9058b8"/>
<g clip-path="url(#tc2)">
<ellipse cx="142.6" cy="487.4" rx="8.4" ry="5.4" fill="#9a78d0" opacity="0.6"/>
<ellipse cx="133.7" cy="499.1" rx="4.6" ry="5.1" fill="#a56ecc" opacity="0.6"/>
<ellipse cx="137.2" cy="472.5" rx="5.3" ry="6.8" fill="#9a78d0" opacity="0.6"/>
<ellipse cx="165.5" cy="478.1" rx="8.8" ry="5.1" fill="#9a78d0" opacity="0.6"/>
<ellipse cx="154.7" cy="472.9" rx="4.9" ry="3.2" fill="#a56ecc" opacity="0.6"/>
<ellipse cx="131.9" cy="500.2" rx="5.4" ry="6.5" fill="#c078d0" opacity="0.6"/>
<ellipse cx="129.9" cy="470.6" rx="5.5" ry="4.5" fill="#a56ecc" opacity="0.6"/>
<ellipse cx="137.8" cy="514.1" rx="6.7" ry="4.7" fill="#c078d0" opacity="0.6"/>
<ellipse cx="168.1" cy="508.2" rx="5.8" ry="4.7" fill="#c078d0" opacity="0.6"/>
<ellipse cx="168.3" cy="502.6" rx="5.0" ry="4.0" fill="#a56ecc" opacity="0.6"/>
<ellipse cx="166.1" cy="508.6" rx="4.9" ry="5.2" fill="#9a78d0" opacity="0.6"/>
<ellipse cx="155.8" cy="517.6" rx="7.1" ry="4.8" fill="#a56ecc" opacity="0.6"/>
</g>
<path d="M145.4 512.6 L150.5 512.0 L150.6 511.3 L148.5 508.5 L147.5 508.5 L144.8 511.2 L145.0 512.2Z" fill="#f3e6f9"/>
<path d="M153.4 476.2 L154.0 476.3 L157.6 474.5 L158.1 471.9 L157.8 471.4 L153.6 470.4 L153.0 470.6 L151.1 474.3Z" fill="#f0e0f8"/>
<path d="M138.4 509.2 L137.6 509.2 L137.3 509.9 L139.4 514.0 L142.5 514.2 L142.8 513.4 L142.3 511.6Z" fill="#f6ecfb"/>
<path d="M164.6 490.0 L164.4 490.7 L165.5 493.9 L169.0 495.6 L170.7 495.2 L172.9 492.6 L172.7 491.8 L167.4 488.2Z" fill="#e0c8f0"/>
<path d="M149.8 497.6 L149.5 496.7 L145.4 495.1 L143.9 495.8 L144.0 496.4 L146.8 500.1 L148.9 499.7Z" fill="#f3e6f9"/>
<path d="M144.5 505.2 L143.9 504.9 L141.6 505.2 L140.4 506.4 L140.4 507.1 L143.0 508.9 L143.6 508.9 L145.4 507.1Z" fill="#e8d4f4"/>
<path d="M163.0 506.0 L161.9 505.7 L161.3 506.2 L161.1 513.3 L161.6 513.9 L164.2 514.2 L166.8 511.4Z" fill="#e0c8f0"/>
<path d="M150.4 520.9 L151.2 521.4 L155.4 520.2 L156.4 519.5 L156.2 518.2 L153.7 516.4 L153.1 516.3 L150.2 519.3Z" fill="#f3e6f9"/>
<path d="M138.7 475.5 L138.0 475.7 L136.7 478.5 L139.4 480.9 L140.0 481.1 L143.9 477.6 L144.1 476.9 L143.6 476.4Z" fill="#f3e6f9"/>
<path d="M133.4 466.8 L132.9 467.3 L133.1 468.0 L136.6 471.6 L137.6 471.6 L138.8 469.1 L138.6 468.4 L135.5 466.2Z" fill="#f3e6f9"/>
<path d="M117.1 481.5 L116.3 481.2 L115.8 481.9 L116.1 485.4 L116.8 487.7 L117.4 488.0 L118.5 487.6 L119.2 485.0Z" fill="#f0e0f8"/>
<path d="M126.5 493.0 L127.4 493.0 L130.3 490.3 L130.2 489.4 L129.1 488.0 L128.4 488.1 L126.5 489.7 L126.1 492.4Z" fill="#f3e6f9"/>
<path d="M157.4 491.9 L158.4 492.1 L160.8 490.6 L161.0 489.8 L156.1 487.1 L155.1 488.8Z" fill="#e8d4f4"/>
<path d="M166.6 502.4 L166.5 503.1 L167.1 503.5 L171.6 502.9 L171.8 502.3 L170.5 498.1 L169.5 498.2Z" fill="#f6ecfb"/>
<path d="M145.4 466.9 L145.3 467.5 L147.2 473.6 L147.8 474.0 L148.7 473.8 L151.3 469.2 L148.7 464.0 L147.7 463.9Z" fill="#f3e6f9"/>
<path d="M135.8 511.8 L134.8 511.6 L130.5 514.9 L130.3 515.5 L130.8 517.0 L136.1 517.4 L137.6 515.3Z" fill="#f6ecfb"/>
<path d="M136.7 505.7 L137.6 505.7 L139.6 503.5 L139.2 499.9 L138.7 499.4 L136.4 500.5 L135.4 504.0Z" fill="#f0e0f8"/>
<path d="M153.6 512.6 L153.4 513.2 L153.9 514.3 L156.5 516.2 L157.3 516.1 L159.5 513.9 L159.5 508.1 L158.5 507.9Z" fill="#f0e0f8"/>
<path d="M158.8 484.3 L158.5 484.8 L158.8 485.4 L163.0 487.8 L163.6 487.7 L165.1 486.5 L164.8 485.7 L160.9 483.2Z" fill="#f3e6f9"/>
<path d="M145.8 519.8 L144.9 520.3 L145.2 521.3 L147.2 521.3 L147.2 520.3Z" fill="#f6ecfb"/>
<path d="M121.9 495.1 L121.4 496.1 L123.1 498.1 L126.0 496.2 L125.9 495.5 L124.4 494.5Z" fill="#f3e6f9"/>
<path d="M119.1 474.1 L118.6 475.7 L119.2 476.1 L120.7 475.6 L121.1 475.0 L120.0 473.6Z" fill="#e8d4f4"/>
<path d="M157.1 506.4 L157.3 505.7 L156.9 505.2 L152.9 505.1 L151.0 507.7 L152.4 509.9 L153.0 510.2Z" fill="#f3e6f9"/>
<path d="M136.4 522.0 L137.0 521.7 L137.1 521.2 L135.7 519.3 L131.0 518.8 L130.4 519.2 L130.1 520.4 L130.5 521.0Z" fill="#f6ecfb"/>
<path d="M163.4 479.8 L163.0 480.3 L163.2 481.0 L165.9 482.6 L166.7 482.4 L166.8 481.6 L165.0 479.5Z" fill="#e8d4f4"/>
<path d="M144.8 515.7 L145.4 517.0 L148.5 517.7 L150.7 515.6 L150.8 515.0 L150.1 514.5 L145.5 514.8Z" fill="#f0e0f8"/>
<path d="M135.0 480.2 L134.4 480.0 L130.0 481.5 L130.1 485.2 L132.2 487.6 L139.1 486.8 L139.8 486.1 L138.9 483.5Z" fill="#e8d4f4"/>
<path d="M142.7 498.1 L141.9 497.8 L141.4 498.4 L141.8 502.0 L142.5 502.5 L144.1 502.2 L144.8 501.3Z" fill="#f0e0f8"/>
<path d="M160.9 472.1 L160.4 471.8 L159.7 472.1 L159.4 474.9 L161.1 477.5 L161.8 477.7 L163.4 477.1 L163.7 476.4Z" fill="#f6ecfb"/>
<path d="M139.6 516.8 L138.0 518.3 L138.7 519.7 L142.5 518.6 L142.8 517.8 L142.4 517.0Z" fill="#e0c8f0"/>
<path d="M139.9 464.8 L139.5 465.7 L140.8 466.6 L143.0 465.8 L143.7 464.6 L143.0 463.9Z" fill="#f6ecfb"/>
<path d="M134.8 494.6 L134.1 495.0 L134.0 496.3 L135.7 498.2 L139.3 496.7 L139.8 496.0 L139.3 495.2Z" fill="#f0e0f8"/>
<path d="M121.8 510.3 L121.0 510.3 L120.7 511.0 L122.6 515.5 L125.2 518.3 L127.5 519.6 L128.2 519.5 L128.9 517.8 L128.3 515.4Z" fill="#e8d4f4"/>
<path d="M120.2 506.4 L120.9 507.1 L121.6 506.5 L121.7 500.3 L121.0 499.6 L120.3 500.2Z" fill="#f0e0f8"/>
<path d="M131.5 499.2 L131.1 499.8 L131.3 502.1 L132.6 502.6 L133.1 502.2 L133.7 499.8 L132.7 498.8Z" fill="#e8d4f4"/>
<path d="M143.4 469.1 L142.7 468.6 L141.3 469.2 L139.7 472.6 L139.9 473.4 L144.1 474.3 L144.7 474.0 L144.8 473.4Z" fill="#e0c8f0"/>
<path d="M134.8 509.3 L135.5 507.6 L133.7 505.6 L130.1 504.7 L123.6 507.7 L123.1 508.4 L123.4 509.0 L129.3 513.4Z" fill="#e0c8f0"/>
<path d="M145.4 486.8 L141.5 487.1 L141.0 488.1 L141.8 493.6 L142.6 494.1 L144.8 493.4 L147.3 488.7Z" fill="#e8d4f4"/>
<path d="M146.8 493.1 L147.1 494.1 L149.3 494.9 L149.9 494.8 L151.6 490.4 L151.6 489.8 L149.0 489.4Z" fill="#e0c8f0"/>
<path d="M139.4 489.5 L138.7 488.9 L133.2 489.6 L132.6 490.5 L134.1 492.7 L139.3 493.3 L139.9 492.7Z" fill="#f3e6f9"/>
<path d="M147.8 505.7 L148.9 505.9 L150.2 504.0 L148.9 502.0 L147.2 502.3 L146.6 503.2Z" fill="#f3e6f9"/>
<path d="M146.8 485.3 L146.9 486.1 L148.9 487.7 L152.6 488.2 L153.2 487.8 L155.0 485.0 L153.7 483.3 L148.8 482.3 L148.2 482.6Z" fill="#f6ecfb"/>
<path d="M155.5 478.5 L156.0 482.0 L156.6 482.1 L159.1 480.3 L159.3 479.1 L158.1 477.4 L157.5 477.4Z" fill="#e0c8f0"/>
<path d="M129.2 468.3 L127.0 476.6 L129.1 479.2 L129.8 479.4 L134.5 478.0 L136.4 474.4 L130.4 468.0 L129.7 467.8Z" fill="#f0e0f8"/>
<path d="M154.2 498.5 L151.5 498.1 L150.6 500.6 L152.5 503.1 L156.8 503.2 L157.1 502.2Z" fill="#e8d4f4"/>
<path d="M120.3 487.1 L120.8 488.0 L124.9 488.0 L127.9 485.4 L128.0 484.2 L127.2 483.8 L121.0 485.5Z" fill="#f3e6f9"/>
<path d="M151.4 495.6 L151.8 496.5 L153.9 496.6 L155.9 493.9 L155.9 493.1 L154.0 490.9 L153.1 491.1Z" fill="#f3e6f9"/>
<path d="M146.4 479.1 L145.9 478.7 L145.3 478.8 L141.0 482.8 L140.9 483.4 L141.6 485.1 L144.8 485.3 L145.4 485.0 L147.2 481.4Z" fill="#f0e0f8"/>
<path d="M153.1 464.7 L152.4 464.7 L152.1 465.4 L153.4 468.1 L156.4 468.9 L157.0 468.7 L157.0 467.7 L155.2 465.9Z" fill="#f3e6f9"/>
<path d="M124.1 500.0 L123.8 500.6 L123.8 504.4 L124.1 504.9 L124.7 505.0 L128.6 503.1 L128.5 499.2 L127.6 498.2 L126.8 498.2Z" fill="#f0e0f8"/>
<path d="M159.5 516.4 L159.3 517.2 L160.0 517.6 L161.5 516.6 L161.8 516.0 L161.4 515.5 L160.7 515.4Z" fill="#f0e0f8"/>
<path d="M148.4 476.5 L147.9 477.2 L149.0 480.2 L151.9 480.9 L152.4 480.7 L152.3 478.0 L149.7 476.2Z" fill="#f3e6f9"/>
<path d="M128.1 496.0 L129.6 497.3 L131.9 496.2 L132.5 493.9 L132.0 492.9 L131.0 492.8 L128.2 495.3Z" fill="#e8d4f4"/>
<path d="M161.6 503.8 L163.0 503.7 L167.0 497.9 L166.8 496.9 L164.7 496.1 L162.0 498.2 L161.3 503.3Z" fill="#f3e6f9"/>
<path d="M127.1 481.5 L127.6 481.1 L127.5 480.5 L125.1 477.8 L123.6 477.7 L118.8 479.1 L118.4 479.6 L120.8 483.2Z" fill="#e0c8f0"/>
<path d="M168.7 485.4 L168.8 486.2 L170.5 487.4 L171.5 487.2 L171.5 486.5 L170.0 484.6 L169.2 484.6Z" fill="#f6ecfb"/>
<path d="M173.1 499.3 L173.7 499.8 L174.4 499.3 L175.0 497.3 L175.0 494.8 L174.6 494.3 L173.8 494.5 L172.3 496.3Z" fill="#f6ecfb"/>
<path d="M158.1 495.3 L157.1 495.2 L155.7 497.6 L158.4 501.2 L159.1 501.4 L159.6 500.9 L159.9 498.0Z" fill="#f0e0f8"/>
<path d="M124.3 490.4 L123.7 489.6 L120.8 489.7 L120.6 490.4 L121.4 493.1 L122.1 493.3 L123.8 492.7Z" fill="#f3e6f9"/>
<path d="M122.7 471.0 L122.4 471.9 L124.1 474.7 L125.0 474.9 L126.5 469.8 L125.7 469.5Z" fill="#f6ecfb"/>
</g><g filter="url(#bl2)">
<ellipse cx="164.7" cy="494.7" rx="1.9" ry="1.3" fill="#2e1a5a" transform="rotate(88 164.7 494.7)"/>
<ellipse cx="128.7" cy="482.5" rx="2.0" ry="1.3" fill="#2e1a5a" transform="rotate(31 128.7 482.5)"/>
<ellipse cx="129.1" cy="485.7" rx="2.2" ry="2.0" fill="#2e1a5a" transform="rotate(169 129.1 485.7)"/>
<ellipse cx="145.3" cy="494.2" rx="1.7" ry="1.1" fill="#24124a" transform="rotate(36 145.3 494.2)"/>
<ellipse cx="160.6" cy="504.8" rx="2.4" ry="2.1" fill="#24124a" transform="rotate(22 160.6 504.8)"/>
<ellipse cx="146.5" cy="475.9" rx="2.0" ry="1.8" fill="#281656" transform="rotate(14 146.5 475.9)"/>
<ellipse cx="152.5" cy="513.1" rx="1.9" ry="1.7" fill="#140826" transform="rotate(67 152.5 513.1)"/>
<ellipse cx="154.4" cy="497.5" rx="1.9" ry="1.4" fill="#140826" transform="rotate(36 154.4 497.5)"/>
<ellipse cx="127.3" cy="496.7" rx="2.4" ry="1.5" fill="#24124a" transform="rotate(70 127.3 496.7)"/>
<ellipse cx="153.5" cy="488.7" rx="1.8" ry="1.7" fill="#140826" transform="rotate(108 153.5 488.7)"/>
<ellipse cx="141.1" cy="486.0" rx="2.1" ry="1.7" fill="#24124a" transform="rotate(116 141.1 486.0)"/>
<ellipse cx="149.7" cy="474.7" rx="2.2" ry="1.7" fill="#140826" transform="rotate(125 149.7 474.7)"/>
<ellipse cx="121.5" cy="508.8" rx="2.2" ry="1.5" fill="#2e1a5a" transform="rotate(43 121.5 508.8)"/>
<ellipse cx="160.3" cy="514.4" rx="2.3" ry="2.1" fill="#1c0c38" transform="rotate(157 160.3 514.4)"/>
<ellipse cx="150.9" cy="497.3" rx="2.4" ry="2.2" fill="#140826" transform="rotate(42 150.9 497.3)"/>
<ellipse cx="144.9" cy="503.4" rx="2.2" ry="1.7" fill="#281656" transform="rotate(80 144.9 503.4)"/>
<ellipse cx="147.3" cy="507.3" rx="1.8" ry="1.1" fill="#2e1a5a" transform="rotate(145 147.3 507.3)"/>
<ellipse cx="163.2" cy="490.4" rx="2.3" ry="1.5" fill="#140826" transform="rotate(67 163.2 490.4)"/>
<ellipse cx="157.0" cy="517.5" rx="2.0" ry="1.9" fill="#281656" transform="rotate(114 157.0 517.5)"/>
<ellipse cx="140.9" cy="504.0" rx="2.2" ry="1.9" fill="#281656" transform="rotate(43 140.9 504.0)"/>
<ellipse cx="138.3" cy="521.4" rx="2.2" ry="1.9" fill="#281656" transform="rotate(23 138.3 521.4)"/>
<ellipse cx="143.5" cy="510.8" rx="2.2" ry="1.7" fill="#24124a" transform="rotate(167 143.5 510.8)"/>
<ellipse cx="120.0" cy="484.9" rx="1.9" ry="1.7" fill="#1c0c38" transform="rotate(5 120.0 484.9)"/>
<ellipse cx="131.7" cy="488.9" rx="2.2" ry="1.8" fill="#281656" transform="rotate(26 131.7 488.9)"/>
<ellipse cx="138.7" cy="515.6" rx="1.8" ry="1.7" fill="#1c0c38" transform="rotate(82 138.7 515.6)"/>
<ellipse cx="158.1" cy="493.7" rx="1.7" ry="1.3" fill="#24124a" transform="rotate(176 158.1 493.7)"/>
<ellipse cx="155.7" cy="485.3" rx="1.9" ry="1.7" fill="#24124a" transform="rotate(57 155.7 485.3)"/>
<ellipse cx="119.0" cy="488.5" rx="1.8" ry="1.3" fill="#24124a" transform="rotate(87 119.0 488.5)"/>
<ellipse cx="120.0" cy="496.0" rx="2.5" ry="2.1" fill="#24124a" transform="rotate(143 120.0 496.0)"/>
<ellipse cx="174.8" cy="492.0" rx="2.2" ry="1.5" fill="#24124a" transform="rotate(28 174.8 492.0)"/>
<ellipse cx="169.1" cy="496.8" rx="1.9" ry="1.4" fill="#2e1a5a" transform="rotate(49 169.1 496.8)"/>
<ellipse cx="135.7" cy="509.9" rx="1.9" ry="1.6" fill="#281656" transform="rotate(121 135.7 509.9)"/>
<ellipse cx="131.8" cy="528.4" rx="2.1" ry="1.1" fill="#43306e" transform="rotate(95 131.8 528.4)"/>
<ellipse cx="179.6" cy="517.8" rx="2.1" ry="1.1" fill="#43306e" transform="rotate(91 179.6 517.8)"/>
<ellipse cx="113.2" cy="526.6" rx="2.1" ry="1.1" fill="#43306e" transform="rotate(163 113.2 526.6)"/>
<ellipse cx="177.4" cy="523.4" rx="2.1" ry="1.1" fill="#43306e" transform="rotate(108 177.4 523.4)"/>
<ellipse cx="168.0" cy="529.1" rx="2.1" ry="1.1" fill="#43306e" transform="rotate(44 168.0 529.1)"/>
<ellipse cx="177.5" cy="530.1" rx="2.1" ry="1.1" fill="#43306e" transform="rotate(117 177.5 530.1)"/>
<ellipse cx="118.4" cy="518.7" rx="2.1" ry="1.1" fill="#43306e" transform="rotate(83 118.4 518.7)"/>
<ellipse cx="131.7" cy="455.3" rx="2.1" ry="1.1" fill="#43306e" transform="rotate(149 131.7 455.3)"/>
</g>
<rect x="165.4" y="525.9" width="13.2" height="3.2" fill="#000" />
</g>
<rect x="108.1" y="453.3" width="73.9" height="79.6" fill="none" stroke="#000" stroke-width="1.9" />
<clipPath id="cp3"><rect x="187.1" y="453.3" width="73.6" height="79.6"/></clipPath>
<g clip-path="url(#cp3)"><g filter="url(#bl)">
<rect x="185.1" y="451.3" width="77.6" height="83.6" fill="#dcc8e4" />
<g transform="translate(187.1 453.3)"><path d="M0 0H34L10 18L0 32Z" fill="#e2deec"/><path d="M2 4Q14 10 24 2" stroke="#a08cc4" stroke-width="1.3" fill="none"/><ellipse cx="8" cy="8" rx="4" ry="1.8" fill="#7a6cae" transform="rotate(-30 8 8)"/><path d="M46 0H75V10L60 8Z" fill="#f1edf5"/><path d="M60 8L75 10V62L68 56Q64 30 56 14Z" fill="#c99cd6"/><ellipse cx="71" cy="28" rx="3.5" ry="9" fill="#9d6cc0"/><path d="M0 60Q16 76 40 80H0Z" fill="#dcb8e0"/><path d="M40 80Q62 76 75 62V80Z" fill="#e4cae8"/><path d="M0 50Q4 62 14 68" stroke="#b9a6d6" stroke-width="2" fill="none"/></g>
<path d="M254.1 494.5 L253.6 498.9 L252.8 503.2 L251.7 507.5 L250.1 511.7 L248.1 515.8 L245.7 519.6 L242.6 523.0 L239.1 525.8 L235.1 527.9 L230.8 529.3 L226.4 530.0 L222.0 530.0 L217.6 529.6 L213.3 528.8 L209.1 527.6 L204.9 525.9 L201.0 523.5 L197.6 520.3 L194.8 516.6 L192.8 512.4 L191.4 507.9 L190.5 503.5 L189.8 499.0 L189.4 494.5 L189.2 489.9 L189.5 485.3 L190.4 480.6 L192.1 476.2 L194.7 472.3 L198.0 469.1 L201.9 466.7 L205.9 464.9 L209.9 463.6 L213.9 462.4 L217.9 461.2 L222.0 460.2 L226.4 459.4 L230.9 459.2 L235.5 459.9 L239.9 461.6 L243.9 464.3 L247.2 467.8 L249.8 471.9 L251.7 476.3 L253.0 480.9 L253.8 485.5 L254.1 490.0Z" fill="#f1eaf6" stroke="#a887c9" stroke-width="1.1"/>
<clipPath id="tc3"><path d="M248.8 493.5 L248.2 497.1 L247.3 500.6 L246.2 504.0 L244.9 507.3 L243.3 510.5 L241.6 513.9 L239.7 517.3 L237.3 520.8 L234.4 524.0 L230.9 526.6 L226.8 527.9 L222.6 527.6 L218.6 526.0 L215.1 523.4 L212.2 520.4 L209.5 517.7 L206.8 515.6 L203.6 513.8 L200.1 511.9 L196.7 509.5 L194.1 506.2 L192.6 502.1 L192.7 497.7 L194.1 493.5 L196.1 489.8 L198.1 486.5 L199.5 483.3 L200.5 479.8 L201.2 475.9 L202.4 471.8 L204.3 468.0 L207.3 465.1 L211.0 463.5 L215.0 463.1 L218.9 463.6 L222.6 464.4 L226.1 465.0 L229.7 465.2 L233.5 465.3 L237.6 465.7 L241.6 467.0 L245.1 469.4 L247.7 472.9 L249.2 477.0 L249.9 481.4 L249.8 485.7 L249.4 489.7Z"/></clipPath>
<path d="M248.8 493.5 L248.2 497.1 L247.3 500.6 L246.2 504.0 L244.9 507.3 L243.3 510.5 L241.6 513.9 L239.7 517.3 L237.3 520.8 L234.4 524.0 L230.9 526.6 L226.8 527.9 L222.6 527.6 L218.6 526.0 L215.1 523.4 L212.2 520.4 L209.5 517.7 L206.8 515.6 L203.6 513.8 L200.1 511.9 L196.7 509.5 L194.1 506.2 L192.6 502.1 L192.7 497.7 L194.1 493.5 L196.1 489.8 L198.1 486.5 L199.5 483.3 L200.5 479.8 L201.2 475.9 L202.4 471.8 L204.3 468.0 L207.3 465.1 L211.0 463.5 L215.0 463.1 L218.9 463.6 L222.6 464.4 L226.1 465.0 L229.7 465.2 L233.5 465.3 L237.6 465.7 L241.6 467.0 L245.1 469.4 L247.7 472.9 L249.2 477.0 L249.9 481.4 L249.8 485.7 L249.4 489.7Z" fill="#9058b8"/>
<g clip-path="url(#tc3)">
<ellipse cx="218.0" cy="508.3" rx="6.5" ry="3.2" fill="#c078d0" opacity="0.6"/>
<ellipse cx="228.1" cy="479.8" rx="5.6" ry="6.1" fill="#c868cc" opacity="0.6"/>
<ellipse cx="227.2" cy="498.0" rx="8.9" ry="4.1" fill="#c868cc" opacity="0.6"/>
<ellipse cx="229.3" cy="493.1" rx="5.8" ry="5.6" fill="#c868cc" opacity="0.6"/>
<ellipse cx="207.8" cy="492.2" rx="5.8" ry="5.6" fill="#c078d0" opacity="0.6"/>
<ellipse cx="205.9" cy="508.5" rx="8.4" ry="4.5" fill="#a56ecc" opacity="0.6"/>
<ellipse cx="230.0" cy="496.8" rx="8.0" ry="3.0" fill="#c078d0" opacity="0.6"/>
<ellipse cx="220.7" cy="506.0" rx="5.0" ry="5.6" fill="#c078d0" opacity="0.6"/>
<ellipse cx="203.5" cy="479.1" rx="6.9" ry="4.8" fill="#9a78d0" opacity="0.6"/>
<ellipse cx="220.0" cy="493.7" rx="5.9" ry="6.0" fill="#9a78d0" opacity="0.6"/>
<ellipse cx="241.4" cy="510.4" rx="4.1" ry="5.2" fill="#c078d0" opacity="0.6"/>
<ellipse cx="218.5" cy="467.6" rx="8.2" ry="6.5" fill="#c078d0" opacity="0.6"/>
</g>
<path d="M234.2 496.6 L235.0 496.3 L236.5 493.1 L236.1 492.4 L234.6 491.9 L233.9 492.2 L232.3 495.3 L232.6 496.0Z" fill="#e8d4f4"/>
<path d="M230.9 523.4 L231.7 523.7 L233.5 522.2 L233.0 519.2 L232.5 518.8 L230.4 518.8 L229.3 520.6 L229.3 521.2Z" fill="#e8d4f4"/>
<path d="M212.6 492.1 L212.6 492.8 L215.4 496.6 L216.5 496.7 L218.0 494.4 L215.8 489.1 L214.8 489.1Z" fill="#f0e0f8"/>
<path d="M227.0 511.3 L226.5 511.8 L226.6 512.4 L228.2 513.3 L228.8 513.1 L229.5 511.6 L228.9 510.9Z" fill="#f6ecfb"/>
<path d="M208.5 514.0 L208.5 515.0 L210.8 516.7 L215.1 515.6 L217.1 511.4 L216.5 510.9 L212.0 510.8Z" fill="#e8d4f4"/>
<path d="M227.6 488.4 L231.8 488.4 L232.1 487.9 L232.2 486.0 L231.6 485.6 L227.5 485.2 L227.1 485.8 L227.2 487.7Z" fill="#f6ecfb"/>
<path d="M242.2 503.6 L241.4 503.6 L239.8 505.3 L239.8 506.3 L242.2 507.2 L242.9 507.0 L243.7 504.9Z" fill="#f0e0f8"/>
<path d="M222.5 511.6 L221.1 510.2 L220.0 510.6 L217.8 515.4 L217.9 516.0 L219.6 516.9 L221.6 516.1 L222.8 512.7Z" fill="#e8d4f4"/>
<path d="M200.1 498.7 L199.6 499.7 L199.7 500.3 L204.3 504.9 L205.1 505.0 L206.0 503.7 L205.5 501.2 L200.9 498.6Z" fill="#f6ecfb"/>
<path d="M195.5 503.4 L195.0 504.0 L195.4 505.3 L196.0 506.0 L196.6 506.1 L197.1 505.4 L196.6 503.7 L196.1 503.3Z" fill="#f6ecfb"/>
<path d="M219.6 486.2 L219.1 486.7 L219.3 487.3 L222.5 489.1 L225.4 487.6 L225.4 485.1 L224.9 484.5Z" fill="#e0c8f0"/>
<path d="M241.1 468.8 L240.4 468.7 L240.0 469.3 L240.9 475.0 L241.3 475.5 L242.5 475.8 L243.0 475.4 L244.6 471.8 L243.8 470.7Z" fill="#e0c8f0"/>
<path d="M240.0 491.5 L239.4 492.0 L239.6 492.7 L242.4 494.6 L243.2 494.4 L243.8 492.1 L243.6 491.4Z" fill="#f3e6f9"/>
<path d="M236.2 502.6 L236.5 503.2 L237.3 503.3 L238.7 501.8 L238.7 501.1 L236.8 500.5Z" fill="#f3e6f9"/>
<path d="M219.2 482.6 L219.2 483.4 L219.9 483.7 L222.9 482.7 L223.3 482.0 L222.9 481.4 L220.8 481.0Z" fill="#f6ecfb"/>
<path d="M209.7 495.9 L210.2 498.5 L212.0 499.3 L213.9 497.8 L214.1 497.2 L212.0 494.4 L211.4 494.2Z" fill="#e0c8f0"/>
<path d="M209.9 472.0 L209.3 471.2 L206.7 472.0 L205.4 474.8 L205.5 475.4 L209.1 475.7Z" fill="#f6ecfb"/>
<path d="M233.2 479.3 L235.0 481.3 L235.5 481.0 L236.5 478.1 L236.2 477.5 L234.4 476.6 L233.7 477.0Z" fill="#e0c8f0"/>
<path d="M223.5 504.1 L223.8 500.8 L223.5 500.2 L219.0 500.6 L218.6 504.1 L220.6 506.4 L221.4 506.4Z" fill="#f3e6f9"/>
<path d="M224.0 523.3 L223.8 525.9 L224.2 526.5 L226.7 526.7 L229.5 525.5 L229.4 524.9 L227.1 521.6 L226.5 521.7Z" fill="#e0c8f0"/>
<path d="M214.4 486.1 L212.2 484.1 L209.7 484.6 L207.5 486.8 L207.8 489.5 L211.4 490.9 L214.5 486.8Z" fill="#f3e6f9"/>
<path d="M212.8 468.7 L213.1 469.4 L214.7 469.9 L216.0 469.2 L216.2 468.6 L215.3 466.1 L213.3 466.2Z" fill="#f0e0f8"/>
<path d="M225.4 495.7 L226.1 495.8 L226.6 495.3 L226.8 490.0 L226.0 489.3 L223.7 490.3 L223.3 490.9 L223.5 494.0Z" fill="#f3e6f9"/>
<path d="M218.3 478.1 L217.7 477.6 L216.7 477.8 L213.9 480.9 L214.0 482.5 L214.7 483.0 L215.3 482.8 L218.3 479.2Z" fill="#f0e0f8"/>
<path d="M238.9 477.7 L237.2 481.9 L237.5 482.6 L239.1 483.3 L244.3 482.1 L244.4 481.4 L242.7 478.2 L240.1 477.3Z" fill="#e8d4f4"/>
<path d="M195.7 493.4 L195.8 494.3 L199.4 497.1 L200.0 496.8 L201.5 494.3 L201.5 493.5 L199.4 489.1 L198.9 488.7 L198.2 489.0Z" fill="#f0e0f8"/>
<path d="M211.5 505.5 L210.9 504.7 L207.0 505.0 L205.6 507.1 L205.2 512.9 L205.5 513.5 L206.5 513.5 L210.7 509.4Z" fill="#f6ecfb"/>
<path d="M217.5 523.2 L219.1 521.5 L218.5 518.4 L216.0 517.2 L212.5 518.4 L212.6 519.1 L216.8 523.1Z" fill="#f0e0f8"/>
<path d="M224.7 472.0 L224.6 472.9 L226.5 475.1 L230.1 472.6 L229.7 471.9 L226.4 470.7Z" fill="#f6ecfb"/>
<path d="M236.6 507.9 L235.9 508.1 L235.7 508.7 L237.8 513.6 L239.5 514.3 L241.7 509.9Z" fill="#f3e6f9"/>
<path d="M202.9 484.0 L202.8 484.8 L203.4 485.2 L205.8 485.1 L206.7 484.1 L206.4 483.5 L204.5 482.5Z" fill="#f3e6f9"/>
<path d="M224.6 466.5 L219.2 465.5 L218.9 466.0 L219.9 469.1 L222.4 470.5 L223.0 470.4 L224.7 468.7Z" fill="#f6ecfb"/>
<path d="M246.1 484.1 L240.4 485.2 L240.3 488.7 L240.9 488.9 L245.2 488.5 L247.9 485.7 L247.6 485.0Z" fill="#e0c8f0"/>
<path d="M224.4 479.4 L225.2 479.0 L225.2 477.4 L223.3 474.8 L222.5 474.6 L220.4 476.6 L220.7 478.2 L221.1 478.6Z" fill="#f6ecfb"/>
<path d="M213.2 502.6 L213.8 503.3 L216.8 503.1 L217.2 500.2 L216.2 498.9 L215.4 498.8 L213.3 500.6Z" fill="#f3e6f9"/>
<path d="M243.1 500.0 L243.3 500.8 L244.8 501.5 L245.5 500.1 L245.6 498.6 L244.2 498.2Z" fill="#f0e0f8"/>
<path d="M222.8 507.7 L222.8 508.6 L223.9 509.4 L230.0 507.8 L230.5 507.1 L230.0 506.4 L225.0 505.6Z" fill="#f3e6f9"/>
<path d="M218.6 508.8 L219.2 508.5 L219.3 507.8 L217.4 505.7 L214.0 505.5 L213.4 505.8 L213.0 507.8 L213.4 508.5Z" fill="#f3e6f9"/>
<path d="M214.6 473.7 L212.6 472.8 L211.9 473.2 L211.3 476.6 L212.3 478.2 L213.1 478.1 L215.1 475.8Z" fill="#e0c8f0"/>
<path d="M235.6 484.1 L234.3 485.4 L234.0 489.1 L234.4 489.6 L237.3 490.4 L237.9 489.7 L237.9 485.1Z" fill="#e0c8f0"/>
<path d="M231.4 498.1 L230.6 498.2 L230.4 498.9 L231.9 502.7 L232.7 503.1 L233.2 502.6 L233.6 499.2Z" fill="#e0c8f0"/>
<path d="M194.6 500.0 L195.1 500.7 L196.2 500.5 L197.3 499.4 L197.3 498.6 L195.8 497.3 L195.1 497.3 L194.7 498.0Z" fill="#f6ecfb"/>
<path d="M219.9 495.9 L218.6 497.3 L218.9 498.3 L223.2 498.0 L223.7 497.6 L223.6 496.9 L222.3 495.9Z" fill="#f3e6f9"/>
<path d="M227.7 498.6 L226.7 498.2 L225.7 499.5 L225.6 502.8 L226.1 503.3 L228.8 503.7 L229.4 502.9Z" fill="#f3e6f9"/>
<path d="M224.3 514.7 L223.9 516.9 L226.7 519.4 L227.3 519.1 L228.5 517.2 L228.1 516.2 L225.1 514.4Z" fill="#f0e0f8"/>
<path d="M221.3 518.7 L220.9 519.4 L221.2 521.3 L222.8 521.7 L224.0 521.0 L224.0 520.2 L222.5 518.7Z" fill="#f0e0f8"/>
<path d="M245.0 477.1 L246.6 480.9 L247.6 481.1 L247.9 480.5 L247.5 477.6 L246.8 475.7 L245.8 475.5Z" fill="#e0c8f0"/>
<path d="M219.6 523.7 L219.3 524.3 L219.6 524.8 L221.2 525.5 L222.0 525.2 L221.8 523.8 L220.3 523.4Z" fill="#e0c8f0"/>
<path d="M221.3 473.2 L221.2 472.2 L219.2 471.2 L216.9 472.6 L216.6 473.2 L217.2 474.9 L218.7 475.4Z" fill="#f0e0f8"/>
<path d="M230.4 515.3 L230.8 516.3 L233.4 516.4 L235.7 514.6 L235.7 513.9 L234.0 510.1 L233.0 510.3Z" fill="#f0e0f8"/>
<path d="M227.5 466.5 L226.8 467.1 L227.1 468.4 L231.9 470.2 L232.5 470.0 L234.7 467.6 L234.0 466.8Z" fill="#e8d4f4"/>
<path d="M202.6 496.5 L202.7 497.4 L206.0 499.2 L207.9 498.0 L207.8 497.0 L207.3 496.6 L203.3 496.0Z" fill="#f3e6f9"/>
<path d="M204.9 477.4 L204.2 478.0 L204.9 480.2 L209.3 482.8 L211.5 482.3 L211.6 480.7 L209.7 477.7Z" fill="#f3e6f9"/>
<path d="M228.0 477.3 L227.7 477.9 L228.1 478.5 L230.8 478.5 L231.2 478.0 L231.6 475.9 L230.7 475.5Z" fill="#e8d4f4"/>
<path d="M228.4 494.8 L228.9 495.5 L229.7 495.2 L231.7 491.5 L231.5 490.6 L228.7 490.8Z" fill="#f0e0f8"/>
<path d="M234.2 473.5 L237.2 475.2 L238.1 475.0 L237.2 469.5 L236.4 469.5 L234.0 472.0Z" fill="#f3e6f9"/>
<path d="M204.4 493.1 L204.1 493.7 L204.5 494.3 L208.3 494.8 L210.2 492.9 L209.8 492.3 L207.0 491.3Z" fill="#f0e0f8"/>
<path d="M219.4 489.6 L218.7 489.6 L218.3 490.2 L219.5 493.1 L220.0 493.4 L221.2 493.3 L221.6 492.8 L221.5 490.9Z" fill="#e8d4f4"/>
<path d="M211.5 501.1 L211.1 500.5 L209.0 499.7 L207.2 501.0 L207.4 502.9 L208.0 503.3 L211.1 503.3 L211.5 502.7Z" fill="#f0e0f8"/>
<path d="M199.4 502.1 L198.6 502.0 L198.2 502.7 L200.6 510.6 L203.4 512.0 L203.8 511.4 L204.0 507.0Z" fill="#e0c8f0"/>
</g><g filter="url(#bl2)">
<ellipse cx="232.9" cy="489.3" rx="2.4" ry="1.5" fill="#140826" transform="rotate(105 232.9 489.3)"/>
<ellipse cx="231.6" cy="505.4" rx="2.2" ry="1.3" fill="#1c0c38" transform="rotate(103 231.6 505.4)"/>
<ellipse cx="198.5" cy="500.2" rx="2.4" ry="2.2" fill="#281656" transform="rotate(23 198.5 500.2)"/>
<ellipse cx="211.1" cy="471.2" rx="2.0" ry="1.5" fill="#2e1a5a" transform="rotate(128 211.1 471.2)"/>
<ellipse cx="218.3" cy="499.8" rx="1.9" ry="1.7" fill="#140826" transform="rotate(139 218.3 499.8)"/>
<ellipse cx="233.2" cy="474.7" rx="2.0" ry="1.8" fill="#24124a" transform="rotate(39 233.2 474.7)"/>
<ellipse cx="229.7" cy="517.3" rx="2.3" ry="2.0" fill="#2e1a5a" transform="rotate(51 229.7 517.3)"/>
<ellipse cx="210.1" cy="476.9" rx="2.3" ry="2.0" fill="#24124a" transform="rotate(57 210.1 476.9)"/>
<ellipse cx="236.0" cy="483.0" rx="2.1" ry="1.8" fill="#140826" transform="rotate(120 236.0 483.0)"/>
<ellipse cx="219.1" cy="509.9" rx="2.0" ry="1.3" fill="#1c0c38" transform="rotate(72 219.1 509.9)"/>
<ellipse cx="233.3" cy="484.9" rx="2.2" ry="1.8" fill="#24124a" transform="rotate(104 233.3 484.9)"/>
<ellipse cx="237.5" cy="491.7" rx="2.4" ry="2.1" fill="#2e1a5a" transform="rotate(146 237.5 491.7)"/>
<ellipse cx="212.2" cy="504.0" rx="1.8" ry="1.6" fill="#281656" transform="rotate(71 212.2 504.0)"/>
<ellipse cx="212.4" cy="483.1" rx="2.0" ry="1.8" fill="#2e1a5a" transform="rotate(157 212.4 483.1)"/>
<ellipse cx="199.2" cy="486.6" rx="2.1" ry="1.4" fill="#140826" transform="rotate(133 199.2 486.6)"/>
<ellipse cx="232.0" cy="479.6" rx="2.3" ry="2.1" fill="#1c0c38" transform="rotate(139 232.0 479.6)"/>
<ellipse cx="219.1" cy="469.9" rx="2.2" ry="1.6" fill="#1c0c38" transform="rotate(40 219.1 469.9)"/>
<ellipse cx="211.5" cy="509.7" rx="2.3" ry="2.0" fill="#281656" transform="rotate(54 211.5 509.7)"/>
<ellipse cx="211.7" cy="492.2" rx="2.1" ry="1.4" fill="#281656" transform="rotate(17 211.7 492.2)"/>
<ellipse cx="226.1" cy="479.8" rx="2.3" ry="2.1" fill="#24124a" transform="rotate(73 226.1 479.8)"/>
<ellipse cx="222.7" cy="494.4" rx="2.0" ry="1.5" fill="#1c0c38" transform="rotate(122 222.7 494.4)"/>
<ellipse cx="237.2" cy="514.7" rx="2.0" ry="1.9" fill="#1c0c38" transform="rotate(129 237.2 514.7)"/>
<ellipse cx="226.0" cy="497.0" rx="1.9" ry="1.3" fill="#140826" transform="rotate(38 226.0 497.0)"/>
<ellipse cx="245.7" cy="489.9" rx="1.9" ry="1.2" fill="#281656" transform="rotate(161 245.7 489.9)"/>
<ellipse cx="234.0" cy="507.5" rx="1.8" ry="1.5" fill="#140826" transform="rotate(159 234.0 507.5)"/>
<ellipse cx="226.1" cy="484.0" rx="1.8" ry="1.1" fill="#140826" transform="rotate(167 226.1 484.0)"/>
<ellipse cx="218.9" cy="494.6" rx="1.8" ry="1.1" fill="#1c0c38" transform="rotate(25 218.9 494.6)"/>
<ellipse cx="226.5" cy="520.8" rx="2.0" ry="1.8" fill="#281656" transform="rotate(3 226.5 520.8)"/>
<ellipse cx="215.3" cy="497.5" rx="1.9" ry="1.2" fill="#281656" transform="rotate(84 215.3 497.5)"/>
<ellipse cx="226.3" cy="488.4" rx="1.9" ry="1.4" fill="#140826" transform="rotate(124 226.3 488.4)"/>
<ellipse cx="203.1" cy="476.9" rx="2.1" ry="1.5" fill="#2e1a5a" transform="rotate(122 203.1 476.9)"/>
<ellipse cx="216.0" cy="486.5" rx="1.9" ry="1.3" fill="#281656" transform="rotate(0 216.0 486.5)"/>
<ellipse cx="254.9" cy="463.2" rx="2.1" ry="1.1" fill="#43306e" transform="rotate(50 254.9 463.2)"/>
<ellipse cx="253.5" cy="458.3" rx="2.1" ry="1.1" fill="#43306e" transform="rotate(153 253.5 458.3)"/>
<ellipse cx="242.9" cy="526.9" rx="2.1" ry="1.1" fill="#43306e" transform="rotate(71 242.9 526.9)"/>
<ellipse cx="192.0" cy="521.2" rx="2.1" ry="1.1" fill="#43306e" transform="rotate(86 192.0 521.2)"/>
<ellipse cx="200.8" cy="461.5" rx="2.1" ry="1.1" fill="#43306e" transform="rotate(32 200.8 461.5)"/>
<ellipse cx="258.3" cy="462.2" rx="2.1" ry="1.1" fill="#43306e" transform="rotate(165 258.3 462.2)"/>
<ellipse cx="241.7" cy="460.7" rx="2.1" ry="1.1" fill="#43306e" transform="rotate(42 241.7 460.7)"/>
<ellipse cx="242.7" cy="458.0" rx="2.1" ry="1.1" fill="#43306e" transform="rotate(20 242.7 458.0)"/>
</g>
<rect x="244.5" y="525.9" width="13.2" height="3.2" fill="#000" />
</g>
<rect x="187.1" y="453.3" width="73.6" height="79.6" fill="none" stroke="#000" stroke-width="1.9" />
<clipPath id="cp4"><rect x="29.5" y="537.7" width="73.9" height="79.69999999999999"/></clipPath>
<g clip-path="url(#cp4)"><g filter="url(#bl)">
<rect x="27.5" y="535.7" width="77.9" height="83.69999999999999" fill="#ddd2e6" />
<g transform="translate(29.5 537.7)"><path d="M0 0H26L8 18L0 40Z" fill="#ece8f2"/><path d="M12 0Q2 10 0 30" stroke="#9a88ba" stroke-width="2" fill="none"/><path d="M0 0H8L0 12Z" fill="#c4b0d8"/><path d="M50 0H75V26Z" fill="#dccfe8"/><path d="M52 1Q68 8 75 24" stroke="#c9a0d4" stroke-width="1.5" fill="none"/><path d="M0 52Q6 70 22 80H0Z" fill="#e4dcee"/><ellipse cx="5" cy="66" rx="3" ry="1.5" fill="#6e6498" transform="rotate(60 5 66)"/><path d="M48 80Q68 74 75 54V80Z" fill="#ddd2ea"/><path d="M44 80Q66 76 75 50" stroke="#a894c4" stroke-width="1.4" fill="none"/></g>
<path d="M100.9 579.0 L100.5 583.4 L99.6 587.6 L98.0 591.7 L95.9 595.5 L93.3 599.0 L90.4 602.2 L87.1 605.1 L83.5 607.6 L79.7 609.6 L75.5 611.1 L71.2 612.0 L66.8 612.3 L62.4 612.0 L58.0 611.2 L53.8 609.9 L49.7 608.1 L45.9 605.8 L42.5 603.0 L39.5 599.6 L37.1 595.9 L35.3 591.8 L34.1 587.6 L33.4 583.3 L33.1 579.0 L33.3 574.7 L33.9 570.3 L35.1 566.0 L36.9 562.0 L39.4 558.3 L42.6 555.1 L46.2 552.6 L50.2 550.6 L54.3 549.2 L58.4 548.0 L62.5 547.2 L66.8 546.6 L71.2 546.3 L75.6 546.6 L80.0 547.6 L84.2 549.3 L88.0 551.7 L91.4 554.8 L94.2 558.3 L96.5 562.1 L98.3 566.1 L99.7 570.3 L100.6 574.6Z" fill="#eee6f4" stroke="#a887c9" stroke-width="1.1"/>
<clipPath id="tc4"><path d="M98.1 579.0 L98.2 583.1 L97.9 587.2 L97.1 591.3 L95.4 595.2 L92.9 598.7 L89.6 601.4 L85.9 603.5 L82.0 605.0 L78.2 606.2 L74.5 607.4 L70.8 608.7 L66.8 609.8 L62.6 610.5 L58.3 610.3 L54.2 609.0 L50.6 606.6 L47.8 603.4 L45.6 599.9 L43.7 596.4 L42.0 593.1 L40.0 589.9 L37.7 586.7 L35.5 583.1 L33.8 579.0 L33.0 574.6 L33.4 570.2 L35.0 566.0 L37.5 562.4 L40.7 559.3 L44.2 556.8 L47.8 554.7 L51.5 552.9 L55.2 551.5 L59.0 550.4 L62.9 549.7 L66.8 549.4 L70.7 549.6 L74.7 550.1 L78.6 551.0 L82.4 552.4 L86.1 554.2 L89.5 556.6 L92.4 559.7 L94.6 563.2 L96.2 567.0 L97.2 571.0 L97.8 575.0Z"/></clipPath>
<path d="M98.1 579.0 L98.2 583.1 L97.9 587.2 L97.1 591.3 L95.4 595.2 L92.9 598.7 L89.6 601.4 L85.9 603.5 L82.0 605.0 L78.2 606.2 L74.5 607.4 L70.8 608.7 L66.8 609.8 L62.6 610.5 L58.3 610.3 L54.2 609.0 L50.6 606.6 L47.8 603.4 L45.6 599.9 L43.7 596.4 L42.0 593.1 L40.0 589.9 L37.7 586.7 L35.5 583.1 L33.8 579.0 L33.0 574.6 L33.4 570.2 L35.0 566.0 L37.5 562.4 L40.7 559.3 L44.2 556.8 L47.8 554.7 L51.5 552.9 L55.2 551.5 L59.0 550.4 L62.9 549.7 L66.8 549.4 L70.7 549.6 L74.7 550.1 L78.6 551.0 L82.4 552.4 L86.1 554.2 L89.5 556.6 L92.4 559.7 L94.6 563.2 L96.2 567.0 L97.2 571.0 L97.8 575.0Z" fill="#8e56b4"/>
<g clip-path="url(#tc4)">
<ellipse cx="90.6" cy="590.7" rx="7.1" ry="3.4" fill="#9258b8" opacity="0.6"/>
<ellipse cx="54.0" cy="571.2" rx="5.6" ry="6.8" fill="#8a78c8" opacity="0.6"/>
<ellipse cx="84.4" cy="582.9" rx="6.4" ry="6.7" fill="#c060c4" opacity="0.6"/>
<ellipse cx="84.0" cy="597.0" rx="7.9" ry="3.2" fill="#b45cc0" opacity="0.6"/>
<ellipse cx="60.6" cy="555.2" rx="7.5" ry="6.4" fill="#8a78c8" opacity="0.6"/>
<ellipse cx="53.2" cy="593.3" rx="6.3" ry="6.2" fill="#c060c4" opacity="0.6"/>
<ellipse cx="68.9" cy="598.2" rx="8.0" ry="5.7" fill="#8a78c8" opacity="0.6"/>
<ellipse cx="45.5" cy="560.2" rx="7.7" ry="4.1" fill="#9258b8" opacity="0.6"/>
<ellipse cx="67.4" cy="582.4" rx="7.8" ry="5.6" fill="#7a50ac" opacity="0.6"/>
<ellipse cx="61.2" cy="606.2" rx="6.8" ry="4.6" fill="#8a78c8" opacity="0.6"/>
<ellipse cx="52.5" cy="601.1" rx="7.0" ry="3.2" fill="#b45cc0" opacity="0.6"/>
<ellipse cx="68.4" cy="555.6" rx="6.4" ry="3.6" fill="#9258b8" opacity="0.6"/>
</g>
<path d="M72.3 568.7 L72.9 569.2 L73.6 568.8 L74.6 566.2 L74.3 565.5 L72.8 565.3 L71.9 566.1Z" fill="#d8b8ea"/>
<path d="M77.4 589.5 L78.3 589.6 L80.5 587.3 L79.2 585.3 L78.0 584.9 L75.6 586.5 L75.7 587.6Z" fill="#e6cef3"/>
<path d="M87.0 563.3 L86.1 563.5 L84.6 566.7 L86.3 568.8 L90.1 566.0 L89.8 564.7Z" fill="#e0c6f0"/>
<path d="M88.1 584.0 L87.2 584.4 L86.6 586.0 L86.9 586.7 L91.1 588.1 L92.5 586.9 L92.4 585.6Z" fill="#d8b8ea"/>
<path d="M65.0 579.4 L65.3 580.4 L69.1 582.0 L69.7 581.7 L71.1 578.7 L70.6 578.1 L66.6 577.2 L66.0 577.6Z" fill="#f4e7fa"/>
<path d="M61.1 584.9 L62.8 581.4 L62.7 580.7 L57.3 579.2 L56.6 579.5 L56.3 582.1 L59.2 585.3Z" fill="#ecd9f6"/>
<path d="M76.5 552.3 L75.5 552.1 L73.5 554.5 L73.4 555.1 L73.9 555.8 L76.9 556.4 L77.7 556.0 L77.9 555.2Z" fill="#d8b8ea"/>
<path d="M60.8 587.7 L60.4 588.3 L60.6 589.2 L61.9 589.8 L62.5 589.6 L62.7 588.8 L61.8 587.8Z" fill="#f4e7fa"/>
<path d="M91.9 593.9 L90.9 594.2 L89.7 597.6 L89.7 598.1 L90.3 598.6 L91.8 597.7 L93.5 595.5 L93.3 594.8Z" fill="#d8b8ea"/>
<path d="M54.2 581.9 L54.5 579.6 L52.4 578.6 L49.2 582.1 L51.6 584.2Z" fill="#e6cef3"/>
<path d="M62.0 558.3 L60.4 555.6 L57.9 555.4 L56.4 558.2 L56.4 558.8 L58.9 560.4 L61.7 559.1Z" fill="#f4e7fa"/>
<path d="M92.2 566.5 L94.2 566.2 L94.3 565.6 L93.4 563.5 L92.7 563.2 L91.4 564.4 L91.6 565.9Z" fill="#ecd9f6"/>
<path d="M45.8 583.9 L45.6 584.7 L47.6 587.8 L48.6 588.0 L50.1 586.2 L50.1 585.4 L47.3 583.2 L46.6 583.3Z" fill="#f4e7fa"/>
<path d="M65.1 571.0 L65.9 571.6 L69.5 569.9 L69.7 569.3 L68.9 566.9 L65.9 566.5 L65.0 567.1Z" fill="#ecd9f6"/>
<path d="M78.0 597.8 L76.9 597.9 L76.8 598.4 L77.1 599.1 L77.7 599.2 L78.3 598.4Z" fill="#e6cef3"/>
<path d="M82.6 588.7 L82.0 588.8 L80.0 590.9 L81.6 593.3 L82.8 593.2 L83.7 591.7 L83.3 589.1Z" fill="#f4e7fa"/>
<path d="M61.1 562.3 L60.7 562.9 L61.0 564.3 L62.7 564.9 L63.3 564.7 L63.6 564.2 L63.2 561.8 L62.5 561.6Z" fill="#e0c6f0"/>
<path d="M66.7 560.0 L66.1 560.1 L65.7 560.6 L66.1 564.4 L66.6 564.7 L69.5 564.8 L71.0 563.3 L70.9 562.3Z" fill="#f4e7fa"/>
<path d="M40.3 561.6 L40.1 562.5 L40.9 562.8 L43.3 561.7 L43.7 561.0 L43.1 560.0 L42.5 559.8Z" fill="#d8b8ea"/>
<path d="M71.3 592.1 L72.8 593.5 L73.5 593.6 L75.7 591.1 L75.8 590.5 L74.9 589.4 L74.3 589.3 L71.5 591.3Z" fill="#f4e7fa"/>
<path d="M76.0 570.0 L76.3 570.8 L78.0 571.7 L78.6 571.5 L79.5 567.5 L78.2 566.4 L77.4 566.5Z" fill="#d8b8ea"/>
<path d="M42.3 573.3 L40.9 576.3 L41.4 576.7 L44.4 576.7 L47.1 573.0 L47.1 572.3 L46.3 571.9Z" fill="#d8b8ea"/>
<path d="M52.3 561.1 L54.4 558.9 L54.0 558.4 L50.4 556.7 L49.6 557.1 L49.4 559.1 L51.6 561.1Z" fill="#f4e7fa"/>
<path d="M61.6 603.1 L61.1 604.3 L61.5 604.7 L62.7 604.3 L62.3 603.1Z" fill="#e0c6f0"/>
<path d="M79.6 602.1 L78.9 601.5 L76.5 601.8 L75.7 603.1 L76.2 605.0 L76.9 605.2 L79.4 604.4Z" fill="#e0c6f0"/>
<path d="M72.8 561.4 L73.2 562.4 L75.6 562.6 L75.8 558.3 L74.6 558.0 L74.0 558.2Z" fill="#e0c6f0"/>
<path d="M63.7 551.5 L63.0 550.8 L59.3 551.5 L57.8 552.0 L57.5 552.7 L58.1 553.6 L61.2 554.1 L63.5 552.1Z" fill="#e0c6f0"/>
<path d="M44.7 586.7 L43.9 586.5 L42.9 587.5 L43.0 589.2 L43.4 589.7 L45.8 588.9Z" fill="#d8b8ea"/>
<path d="M81.0 571.1 L81.1 571.8 L81.7 572.0 L84.6 571.5 L85.0 570.6 L83.3 568.3 L82.2 568.2 L81.6 568.7Z" fill="#e6cef3"/>
<path d="M37.8 574.7 L38.9 574.8 L39.8 573.0 L37.7 571.1 L36.5 572.7Z" fill="#ecd9f6"/>
<path d="M91.7 580.1 L90.8 580.1 L89.3 582.2 L89.7 582.7 L92.5 583.7 L93.1 583.1 L93.1 581.4Z" fill="#d8b8ea"/>
<path d="M84.1 581.4 L83.2 581.4 L81.0 584.4 L82.4 586.3 L83.9 586.7 L84.5 586.3 L85.7 583.3Z" fill="#ecd9f6"/>
<path d="M66.2 550.9 L65.6 551.3 L65.8 552.0 L68.2 553.7 L68.9 553.6 L68.9 551.1Z" fill="#ecd9f6"/>
<path d="M95.4 581.3 L95.1 583.3 L95.5 583.7 L96.2 583.7 L96.7 583.2 L96.6 581.5 L96.1 581.1Z" fill="#ecd9f6"/>
<path d="M46.7 597.0 L46.2 597.8 L47.6 600.0 L49.5 600.2 L50.4 599.4 L50.3 598.5 L48.0 596.7Z" fill="#f4e7fa"/>
<path d="M64.0 592.1 L64.4 593.6 L66.5 594.4 L69.4 592.6 L69.5 591.5 L67.8 589.5 L65.7 589.6Z" fill="#f4e7fa"/>
<path d="M59.0 570.9 L59.6 571.7 L62.9 571.2 L63.2 570.6 L62.8 567.6 L60.2 566.8 L59.6 567.0Z" fill="#ecd9f6"/>
<path d="M74.4 584.5 L76.1 583.8 L76.4 583.1 L75.5 579.8 L73.5 579.4 L71.6 582.7Z" fill="#e0c6f0"/>
<path d="M74.0 604.1 L73.6 603.6 L71.1 603.0 L70.1 604.5 L71.1 606.5 L71.8 606.8 L74.3 605.8Z" fill="#e0c6f0"/>
<path d="M70.8 594.3 L70.0 594.2 L67.6 595.8 L67.9 598.3 L69.8 598.9 L72.0 596.1 L72.1 595.3Z" fill="#e6cef3"/>
<path d="M71.7 555.8 L70.2 555.3 L69.1 555.6 L67.8 558.0 L67.9 558.7 L70.4 560.1 L71.1 560.0 L72.3 557.0Z" fill="#ecd9f6"/>
<path d="M73.2 576.6 L73.7 577.4 L76.0 577.5 L78.0 576.0 L78.1 574.1 L74.2 572.4 L73.8 572.8Z" fill="#ecd9f6"/>
<path d="M60.4 574.2 L59.8 574.6 L59.4 576.9 L62.7 577.7 L63.9 575.6 L63.7 574.2 L63.1 573.8Z" fill="#e6cef3"/>
<path d="M44.0 591.8 L43.5 592.7 L44.8 595.0 L45.5 595.2 L47.1 594.4 L48.0 591.9 L47.6 591.1 L47.0 590.9Z" fill="#d8b8ea"/>
<path d="M55.7 599.2 L55.2 599.5 L55.2 600.1 L56.9 602.9 L57.7 603.0 L59.6 600.3 L59.4 599.1 L58.7 598.7Z" fill="#ecd9f6"/>
<path d="M88.3 561.1 L88.5 562.0 L90.1 562.7 L91.5 561.5 L91.1 560.7 L89.8 559.5 L89.2 559.7Z" fill="#ecd9f6"/>
<path d="M79.3 564.0 L79.1 565.0 L80.8 566.3 L82.9 566.2 L84.7 562.6 L83.0 561.4Z" fill="#f4e7fa"/>
<path d="M86.3 588.4 L85.4 588.9 L85.9 591.1 L89.7 592.1 L90.3 591.9 L90.6 590.2 L90.3 589.7Z" fill="#ecd9f6"/>
<path d="M80.7 598.9 L81.5 599.5 L84.4 598.7 L84.5 598.0 L82.9 595.4 L81.3 595.4 L80.5 596.3Z" fill="#ecd9f6"/>
<path d="M59.7 595.1 L60.6 595.4 L62.2 594.0 L62.2 592.8 L60.0 591.7 L59.3 591.9 L58.6 593.3Z" fill="#ecd9f6"/>
<path d="M90.3 577.1 L91.3 577.0 L92.8 574.4 L92.8 573.8 L92.3 573.3 L88.1 573.6 L87.5 574.0 L87.6 575.0Z" fill="#e6cef3"/>
<path d="M50.6 571.1 L49.9 571.3 L49.8 572.1 L52.7 576.4 L55.3 577.8 L56.1 577.6 L57.4 573.5 L57.3 572.8Z" fill="#e0c6f0"/>
<path d="M87.2 571.1 L87.9 571.8 L90.8 571.4 L91.2 570.8 L90.9 568.8 L89.9 568.6 L87.5 570.4Z" fill="#ecd9f6"/>
<path d="M68.1 603.9 L69.5 601.9 L69.5 601.1 L66.7 599.7 L65.0 600.9 L64.9 601.6 L65.9 603.9Z" fill="#f4e7fa"/>
<path d="M68.6 584.5 L68.2 583.7 L64.5 582.1 L64.0 582.5 L62.9 585.3 L65.2 588.1 L67.1 588.0 L67.7 587.6Z" fill="#e6cef3"/>
<path d="M50.9 593.6 L50.2 593.9 L50.1 594.8 L51.2 595.7 L51.8 595.7 L52.3 594.1Z" fill="#e6cef3"/>
<path d="M85.5 600.0 L86.0 601.7 L86.6 601.7 L88.7 600.5 L88.9 599.7 L88.1 599.1 L86.1 599.2Z" fill="#e6cef3"/>
<path d="M53.1 601.9 L52.5 601.5 L51.9 602.0 L51.9 603.2 L52.3 603.6 L53.6 603.3Z" fill="#e6cef3"/>
<path d="M54.5 554.0 L53.3 554.8 L53.4 555.4 L54.7 555.7 L55.2 554.9 L55.1 554.3Z" fill="#e6cef3"/>
<path d="M35.7 575.0 L35.0 574.8 L34.5 575.3 L34.7 576.8 L35.1 577.2 L36.4 576.5Z" fill="#d8b8ea"/>
<path d="M44.8 559.2 L45.5 559.6 L47.3 558.8 L47.5 557.3 L46.7 557.0 L44.9 558.1 L44.6 558.6Z" fill="#e6cef3"/>
<path d="M64.5 558.7 L65.8 558.2 L67.1 555.5 L66.9 554.9 L64.5 553.5 L62.6 555.3 L64.0 558.4Z" fill="#e6cef3"/>
<path d="M94.0 593.1 L94.9 592.9 L95.8 590.4 L93.4 588.6 L92.5 589.5 L92.2 591.8Z" fill="#d8b8ea"/>
<path d="M56.0 560.7 L55.2 560.7 L52.8 563.0 L52.2 565.0 L52.5 565.7 L57.9 565.6 L58.4 565.4 L58.0 562.1Z" fill="#f4e7fa"/>
<path d="M48.3 560.3 L45.4 561.6 L45.5 562.3 L48.9 566.9 L49.8 567.0 L50.5 566.2 L51.1 562.7Z" fill="#e0c6f0"/>
<path d="M66.1 573.8 L66.7 575.4 L71.2 576.3 L71.6 575.7 L72.1 571.9 L70.8 571.3 L66.5 573.2Z" fill="#e0c6f0"/>
<path d="M82.8 578.2 L83.7 578.2 L85.8 575.2 L85.5 573.6 L80.7 574.2 L80.2 574.5 L80.1 576.3Z" fill="#f4e7fa"/>
<path d="M94.7 576.0 L93.8 576.1 L92.8 578.0 L92.9 578.6 L94.2 579.5 L96.5 578.0 L96.3 576.9Z" fill="#f4e7fa"/>
<path d="M71.4 585.8 L70.4 586.2 L70.0 587.9 L70.4 588.5 L71.0 588.5 L72.7 587.2 L72.5 586.5Z" fill="#d8b8ea"/>
<path d="M38.4 565.7 L37.7 566.4 L38.1 568.5 L41.3 571.2 L41.9 571.3 L44.2 570.4 L44.1 569.5Z" fill="#d8b8ea"/>
<path d="M38.6 585.5 L41.4 586.2 L42.9 584.8 L43.0 584.2 L40.3 582.7 L38.3 584.3Z" fill="#e0c6f0"/>
<path d="M78.5 581.8 L78.9 582.3 L79.5 582.2 L80.9 580.2 L80.8 579.6 L79.2 578.6 L77.9 579.4Z" fill="#e0c6f0"/>
<path d="M86.1 593.7 L85.5 593.9 L85.3 594.6 L86.4 596.6 L87.2 596.8 L88.1 594.5Z" fill="#f4e7fa"/>
<path d="M53.2 585.2 L53.1 586.0 L54.9 587.8 L57.5 587.4 L58.0 587.0 L57.9 586.3 L55.4 583.6 L54.8 583.6Z" fill="#e0c6f0"/>
<path d="M65.9 608.3 L66.6 608.6 L69.3 607.7 L69.5 607.0 L68.6 605.5 L65.7 605.6 L65.1 606.8Z" fill="#d8b8ea"/>
<path d="M71.4 600.0 L71.6 601.0 L73.8 601.7 L74.4 601.5 L74.9 600.8 L74.1 598.3 L73.6 597.9 L72.9 598.1Z" fill="#e0c6f0"/>
<path d="M77.9 561.4 L78.3 562.1 L78.9 562.1 L80.9 560.7 L81.0 560.0 L79.2 558.5 L78.5 558.5 L78.1 559.0Z" fill="#d8b8ea"/>
<path d="M55.1 606.2 L54.5 606.7 L54.7 607.5 L56.4 608.1 L57.0 607.8 L57.1 607.2 L56.7 606.3Z" fill="#d8b8ea"/>
<path d="M46.5 580.6 L47.0 581.1 L47.6 581.0 L50.8 577.4 L50.8 576.8 L49.0 574.4 L48.2 574.6 L45.9 577.9Z" fill="#e0c6f0"/>
<path d="M51.2 568.2 L51.0 568.8 L51.5 569.3 L56.4 570.4 L57.1 569.9 L57.4 568.1 L56.8 567.5 L51.8 567.7Z" fill="#ecd9f6"/>
<path d="M54.5 592.3 L57.1 592.4 L58.4 590.4 L58.0 589.0 L57.4 588.8 L55.2 589.4 L54.3 591.6Z" fill="#f4e7fa"/>
</g><g filter="url(#bl2)">
<ellipse cx="70.1" cy="583.3" rx="2.5" ry="1.6" fill="#24124a" transform="rotate(156 70.1 583.3)"/>
<ellipse cx="66.4" cy="559.0" rx="1.9" ry="1.4" fill="#1c0c38" transform="rotate(43 66.4 559.0)"/>
<ellipse cx="91.3" cy="592.6" rx="2.4" ry="2.1" fill="#24124a" transform="rotate(85 91.3 592.6)"/>
<ellipse cx="84.7" cy="599.7" rx="2.2" ry="1.6" fill="#140826" transform="rotate(169 84.7 599.7)"/>
<ellipse cx="73.6" cy="595.6" rx="2.1" ry="1.7" fill="#281656" transform="rotate(159 73.6 595.6)"/>
<ellipse cx="57.5" cy="605.4" rx="2.3" ry="1.6" fill="#281656" transform="rotate(2 57.5 605.4)"/>
<ellipse cx="68.9" cy="604.5" rx="1.9" ry="1.2" fill="#1c0c38" transform="rotate(97 68.9 604.5)"/>
<ellipse cx="90.5" cy="564.2" rx="2.3" ry="1.5" fill="#140826" transform="rotate(109 90.5 564.2)"/>
<ellipse cx="58.8" cy="561.5" rx="1.9" ry="1.5" fill="#2e1a5a" transform="rotate(10 58.8 561.5)"/>
<ellipse cx="79.4" cy="573.5" rx="2.1" ry="1.7" fill="#140826" transform="rotate(88 79.4 573.5)"/>
<ellipse cx="49.2" cy="591.7" rx="2.3" ry="2.1" fill="#140826" transform="rotate(80 49.2 591.7)"/>
<ellipse cx="91.3" cy="578.5" rx="2.1" ry="1.6" fill="#24124a" transform="rotate(121 91.3 578.5)"/>
<ellipse cx="48.5" cy="570.6" rx="2.3" ry="1.6" fill="#281656" transform="rotate(47 48.5 570.6)"/>
<ellipse cx="61.4" cy="554.9" rx="2.3" ry="2.1" fill="#2e1a5a" transform="rotate(59 61.4 554.9)"/>
<ellipse cx="63.5" cy="579.9" rx="2.2" ry="1.8" fill="#281656" transform="rotate(136 63.5 579.9)"/>
<ellipse cx="72.7" cy="578.4" rx="2.3" ry="2.1" fill="#2e1a5a" transform="rotate(177 72.7 578.4)"/>
<ellipse cx="81.9" cy="587.3" rx="2.1" ry="1.9" fill="#281656" transform="rotate(1 81.9 587.3)"/>
<ellipse cx="54.6" cy="588.7" rx="2.4" ry="2.2" fill="#2e1a5a" transform="rotate(120 54.6 588.7)"/>
<ellipse cx="77.1" cy="564.5" rx="2.1" ry="1.5" fill="#140826" transform="rotate(79 77.1 564.5)"/>
<ellipse cx="35.0" cy="572.8" rx="1.8" ry="1.5" fill="#140826" transform="rotate(34 35.0 572.8)"/>
<ellipse cx="83.4" cy="594.4" rx="2.2" ry="1.4" fill="#24124a" transform="rotate(114 83.4 594.4)"/>
<ellipse cx="36.3" cy="564.6" rx="1.9" ry="1.3" fill="#24124a" transform="rotate(134 36.3 564.6)"/>
<ellipse cx="58.0" cy="571.8" rx="2.4" ry="2.3" fill="#2e1a5a" transform="rotate(41 58.0 571.8)"/>
<ellipse cx="52.3" cy="598.8" rx="1.7" ry="1.2" fill="#281656" transform="rotate(163 52.3 598.8)"/>
<ellipse cx="59.1" cy="586.6" rx="2.2" ry="1.6" fill="#24124a" transform="rotate(87 59.1 586.6)"/>
<ellipse cx="40.3" cy="581.5" rx="2.4" ry="2.1" fill="#281656" transform="rotate(0 40.3 581.5)"/>
<ellipse cx="77.6" cy="584.0" rx="2.1" ry="1.7" fill="#24124a" transform="rotate(2 77.6 584.0)"/>
<ellipse cx="93.3" cy="587.2" rx="1.9" ry="1.7" fill="#281656" transform="rotate(27 93.3 587.2)"/>
<ellipse cx="86.4" cy="562.2" rx="1.8" ry="1.2" fill="#1c0c38" transform="rotate(136 86.4 562.2)"/>
<ellipse cx="63.7" cy="566.9" rx="2.0" ry="1.5" fill="#1c0c38" transform="rotate(176 63.7 566.9)"/>
<ellipse cx="80.1" cy="600.5" rx="2.5" ry="1.8" fill="#2e1a5a" transform="rotate(0 80.1 600.5)"/>
<ellipse cx="86.1" cy="570.0" rx="1.7" ry="1.6" fill="#281656" transform="rotate(140 86.1 570.0)"/>
<ellipse cx="37.2" cy="569.1" rx="2.4" ry="1.9" fill="#281656" transform="rotate(172 37.2 569.1)"/>
<ellipse cx="76.2" cy="578.7" rx="2.3" ry="2.0" fill="#140826" transform="rotate(56 76.2 578.7)"/>
<ellipse cx="64.4" cy="552.2" rx="2.0" ry="1.4" fill="#1c0c38" transform="rotate(36 64.4 552.2)"/>
<ellipse cx="70.5" cy="592.8" rx="2.2" ry="1.9" fill="#140826" transform="rotate(170 70.5 592.8)"/>
<ellipse cx="47.5" cy="582.3" rx="2.1" ry="2.0" fill="#140826" transform="rotate(179 47.5 582.3)"/>
<ellipse cx="77.3" cy="590.7" rx="2.2" ry="1.4" fill="#140826" transform="rotate(82 77.3 590.7)"/>
<ellipse cx="44.4" cy="584.4" rx="1.9" ry="1.5" fill="#24124a" transform="rotate(98 44.4 584.4)"/>
<ellipse cx="65.7" cy="575.8" rx="2.1" ry="1.9" fill="#281656" transform="rotate(43 65.7 575.8)"/>
<ellipse cx="39.2" cy="576.9" rx="2.0" ry="1.3" fill="#140826" transform="rotate(34 39.2 576.9)"/>
<ellipse cx="59.2" cy="590.4" rx="1.8" ry="1.5" fill="#1c0c38" transform="rotate(108 59.2 590.4)"/>
<ellipse cx="44.5" cy="562.1" rx="2.1" ry="1.5" fill="#24124a" transform="rotate(163 44.5 562.1)"/>
<ellipse cx="58.7" cy="566.4" rx="2.2" ry="1.6" fill="#2e1a5a" transform="rotate(89 58.7 566.4)"/>
<ellipse cx="96.0" cy="546.6" rx="2.1" ry="1.1" fill="#43306e" transform="rotate(110 96.0 546.6)"/>
<ellipse cx="99.8" cy="561.2" rx="2.1" ry="1.1" fill="#43306e" transform="rotate(42 99.8 561.2)"/>
<ellipse cx="40.0" cy="543.4" rx="2.1" ry="1.1" fill="#43306e" transform="rotate(126 40.0 543.4)"/>
<ellipse cx="45.8" cy="609.7" rx="2.1" ry="1.1" fill="#43306e" transform="rotate(157 45.8 609.7)"/>
<ellipse cx="98.8" cy="596.5" rx="2.1" ry="1.1" fill="#43306e" transform="rotate(100 98.8 596.5)"/>
<ellipse cx="51.6" cy="539.8" rx="2.1" ry="1.1" fill="#43306e" transform="rotate(108 51.6 539.8)"/>
<ellipse cx="97.8" cy="610.0" rx="2.1" ry="1.1" fill="#43306e" transform="rotate(25 97.8 610.0)"/>
<ellipse cx="32.2" cy="590.5" rx="2.1" ry="1.1" fill="#43306e" transform="rotate(148 32.2 590.5)"/>
</g>
<path d="M49.3 553.7h4.8v-2.3l4.6 3.8l-4.6 3.8v-2.3h-4.8z" fill="#000"/>
<path d="M68.8 559.4h4.8v-2.3l4.6 3.8l-4.6 3.8v-2.3h-4.8z" fill="#000"/>
<path d="M37.2 592.1h4.8v-2.3l4.6 3.8l-4.6 3.8v-2.3h-4.8z" fill="#000"/>
<rect x="85.9" y="610.9000000000001" width="13.2" height="3.7" fill="#000" />
</g>
<rect x="29.5" y="537.7" width="73.9" height="79.69999999999999" fill="none" stroke="#000" stroke-width="1.9" />
<clipPath id="cp5"><rect x="108.1" y="537.7" width="73.9" height="79.69999999999999"/></clipPath>
<g clip-path="url(#cp5)"><g filter="url(#bl)">
<rect x="106.1" y="535.7" width="77.9" height="83.69999999999999" fill="#dcc6e2" />
<g transform="translate(108.1 537.7)"><path d="M0 0H44L30 5L0 10Z" fill="#c2a6d8"/><path d="M0 10L30 5L14 14L0 30Z" fill="#ead6ee"/><path d="M52 0H75V24Q66 8 52 0Z" fill="#e6d0ea"/><ellipse cx="69" cy="6" rx="3.5" ry="2.2" fill="#5c4088"/><path d="M50 80Q70 72 75 48V80Z" fill="#ead4ee"/><path d="M46 80Q68 74 75 46" stroke="#b592d0" stroke-width="1.4" fill="none"/><path d="M0 56Q6 72 24 80H0Z" fill="#d2b8e0"/><ellipse cx="5" cy="70" rx="3" ry="1.6" fill="#4a3478" transform="rotate(50 5 70)"/></g>
<path d="M180.0 576.0 L180.4 580.5 L180.2 585.2 L179.1 589.7 L177.2 594.1 L174.4 597.9 L170.8 601.0 L166.7 603.5 L162.4 605.3 L158.1 606.7 L153.8 607.8 L149.4 608.6 L145.0 609.0 L140.5 608.9 L136.1 608.2 L131.9 606.8 L128.0 604.7 L124.4 602.1 L121.2 599.1 L118.2 596.0 L115.3 592.7 L112.7 589.0 L110.5 585.0 L108.9 580.6 L108.3 576.0 L108.8 571.4 L110.2 566.9 L112.4 562.9 L115.0 559.2 L117.9 555.8 L120.9 552.6 L124.1 549.5 L127.6 546.7 L131.5 544.3 L135.7 542.5 L140.3 541.5 L145.0 541.3 L149.6 542.0 L154.0 543.4 L158.1 545.2 L162.0 547.4 L165.6 550.0 L168.8 552.9 L171.7 556.1 L174.2 559.6 L176.2 563.4 L177.8 567.5 L179.1 571.6Z" fill="#eee4f3" stroke="#a887c9" stroke-width="1.1"/>
<clipPath id="tc5"><path d="M175.0 576.0 L174.4 579.8 L174.0 583.5 L173.7 587.5 L173.2 591.8 L172.0 596.1 L169.8 600.0 L166.5 603.2 L162.4 605.3 L157.9 606.2 L153.3 606.2 L149.1 605.8 L145.0 605.5 L141.0 605.4 L136.9 605.4 L132.5 605.2 L128.1 604.4 L123.9 602.6 L120.4 599.8 L117.7 596.3 L115.9 592.3 L114.9 588.1 L114.3 584.0 L114.1 579.9 L114.1 576.0 L114.4 572.1 L115.1 568.2 L116.3 564.5 L118.0 560.9 L120.1 557.5 L122.5 554.2 L125.3 551.1 L128.5 548.3 L132.1 545.8 L136.1 543.9 L140.5 543.0 L145.0 542.9 L149.4 543.7 L153.6 545.1 L157.5 546.9 L161.2 548.9 L164.8 551.0 L168.2 553.5 L171.2 556.5 L173.7 560.0 L175.2 563.9 L175.8 568.0 L175.6 572.1Z"/></clipPath>
<path d="M175.0 576.0 L174.4 579.8 L174.0 583.5 L173.7 587.5 L173.2 591.8 L172.0 596.1 L169.8 600.0 L166.5 603.2 L162.4 605.3 L157.9 606.2 L153.3 606.2 L149.1 605.8 L145.0 605.5 L141.0 605.4 L136.9 605.4 L132.5 605.2 L128.1 604.4 L123.9 602.6 L120.4 599.8 L117.7 596.3 L115.9 592.3 L114.9 588.1 L114.3 584.0 L114.1 579.9 L114.1 576.0 L114.4 572.1 L115.1 568.2 L116.3 564.5 L118.0 560.9 L120.1 557.5 L122.5 554.2 L125.3 551.1 L128.5 548.3 L132.1 545.8 L136.1 543.9 L140.5 543.0 L145.0 542.9 L149.4 543.7 L153.6 545.1 L157.5 546.9 L161.2 548.9 L164.8 551.0 L168.2 553.5 L171.2 556.5 L173.7 560.0 L175.2 563.9 L175.8 568.0 L175.6 572.1Z" fill="#8e56b4"/>
<g clip-path="url(#tc5)">
<ellipse cx="121.7" cy="571.1" rx="7.2" ry="3.2" fill="#c060c4" opacity="0.6"/>
<ellipse cx="141.4" cy="575.7" rx="6.3" ry="3.9" fill="#b45cc0" opacity="0.6"/>
<ellipse cx="147.4" cy="596.4" rx="7.7" ry="3.8" fill="#c060c4" opacity="0.6"/>
<ellipse cx="131.0" cy="584.6" rx="8.1" ry="3.4" fill="#b45cc0" opacity="0.6"/>
<ellipse cx="138.3" cy="592.2" rx="5.0" ry="4.9" fill="#c060c4" opacity="0.6"/>
<ellipse cx="149.0" cy="597.3" rx="6.2" ry="4.2" fill="#c060c4" opacity="0.6"/>
<ellipse cx="156.9" cy="554.2" rx="8.1" ry="5.3" fill="#9258b8" opacity="0.6"/>
<ellipse cx="125.4" cy="589.9" rx="4.4" ry="3.2" fill="#8a78c8" opacity="0.6"/>
<ellipse cx="140.4" cy="590.4" rx="4.4" ry="4.7" fill="#b45cc0" opacity="0.6"/>
<ellipse cx="137.2" cy="576.2" rx="5.3" ry="4.4" fill="#8a78c8" opacity="0.6"/>
<ellipse cx="148.6" cy="597.4" rx="6.4" ry="3.7" fill="#8a78c8" opacity="0.6"/>
<ellipse cx="158.7" cy="581.0" rx="7.2" ry="7.0" fill="#b45cc0" opacity="0.6"/>
</g>
<path d="M131.8 566.2 L132.4 567.0 L136.4 566.2 L137.0 564.9 L135.2 562.4 L132.4 562.8 L131.8 563.3Z" fill="#e0c6f0"/>
<path d="M140.8 572.3 L140.4 573.1 L141.3 574.2 L145.2 575.0 L145.8 574.5 L146.4 572.0 L146.0 571.4 L144.0 570.7Z" fill="#f4e7fa"/>
<path d="M129.9 574.9 L129.6 575.8 L131.1 577.9 L133.8 577.4 L134.4 575.3 L134.1 574.6 L132.0 573.7Z" fill="#ecd9f6"/>
<path d="M153.8 597.5 L154.6 598.1 L155.7 597.9 L156.0 597.3 L155.4 596.3 L154.9 596.1 L153.9 596.6Z" fill="#d8b8ea"/>
<path d="M124.9 554.1 L124.2 554.2 L123.1 555.9 L125.4 557.9 L127.6 556.1 L127.8 555.5 L127.4 555.0Z" fill="#e0c6f0"/>
<path d="M147.6 574.8 L148.2 575.6 L150.6 575.5 L150.9 575.1 L151.2 573.0 L148.4 572.4Z" fill="#f4e7fa"/>
<path d="M120.0 578.6 L120.8 579.0 L121.3 578.3 L121.5 572.7 L120.5 571.8 L119.8 572.2 L118.4 575.3Z" fill="#f4e7fa"/>
<path d="M137.5 560.4 L137.1 561.3 L138.7 563.4 L141.8 562.7 L141.1 559.2Z" fill="#f4e7fa"/>
<path d="M142.0 578.6 L142.5 579.4 L144.4 579.4 L144.9 579.0 L145.0 578.0 L144.6 577.5 L142.7 577.2 L142.2 577.6Z" fill="#e0c6f0"/>
<path d="M150.9 593.8 L151.7 594.1 L154.4 592.7 L153.1 588.5 L151.8 588.6 L150.3 592.0Z" fill="#e0c6f0"/>
<path d="M139.9 547.4 L139.3 548.1 L140.0 551.5 L140.6 551.7 L143.3 550.9 L143.5 550.1 L142.2 547.5Z" fill="#ecd9f6"/>
<path d="M119.4 594.3 L118.7 595.1 L119.1 595.8 L119.7 596.0 L120.2 595.6 L120.3 594.9Z" fill="#f4e7fa"/>
<path d="M156.3 588.6 L155.6 589.3 L156.5 591.9 L157.1 591.9 L159.7 590.4 L159.2 588.7Z" fill="#f4e7fa"/>
<path d="M153.3 586.6 L154.0 586.3 L155.9 582.7 L155.4 580.7 L154.8 580.2 L154.2 580.4 L151.3 583.2 L152.2 586.1Z" fill="#d8b8ea"/>
<path d="M138.4 594.8 L138.6 595.7 L141.4 596.7 L142.7 595.6 L142.5 592.9 L142.0 592.5 L140.0 592.2Z" fill="#e6cef3"/>
<path d="M162.4 575.0 L162.9 575.4 L165.5 576.0 L166.2 575.4 L165.8 573.8 L165.3 573.4 L162.7 573.9Z" fill="#ecd9f6"/>
<path d="M161.4 553.9 L160.6 554.0 L157.9 556.9 L158.0 558.0 L159.2 559.1 L163.8 558.5 L165.1 556.3 L164.9 555.4Z" fill="#d8b8ea"/>
<path d="M121.7 598.5 L122.5 599.5 L123.3 599.4 L125.5 596.9 L125.4 595.7 L123.2 594.6 L122.6 594.7Z" fill="#f4e7fa"/>
<path d="M147.2 584.8 L147.2 585.4 L147.7 585.8 L148.5 585.7 L148.8 585.2 L148.7 584.5 L148.1 584.1Z" fill="#f4e7fa"/>
<path d="M144.0 558.9 L143.6 559.6 L144.2 562.5 L144.8 562.7 L147.2 562.2 L147.8 561.0 L147.0 558.1 L146.2 557.9Z" fill="#ecd9f6"/>
<path d="M154.2 567.9 L155.0 570.4 L157.8 571.5 L158.7 571.3 L159.3 569.5 L158.2 566.8 L157.6 566.6 L154.9 566.8Z" fill="#f4e7fa"/>
<path d="M121.8 580.8 L121.5 581.6 L123.3 586.8 L123.9 587.1 L125.8 586.8 L126.1 586.2 L125.9 582.7 L122.7 580.7Z" fill="#d8b8ea"/>
<path d="M169.2 571.9 L168.6 572.8 L169.0 573.6 L169.7 573.8 L170.2 573.3 L170.2 572.4Z" fill="#e6cef3"/>
<path d="M148.6 579.6 L148.9 580.2 L149.8 580.4 L150.8 579.6 L150.9 579.0 L150.4 578.5 L149.1 578.5Z" fill="#f4e7fa"/>
<path d="M171.0 563.1 L171.7 563.1 L172.3 562.5 L171.7 561.2 L171.1 561.3 L170.6 562.1Z" fill="#e6cef3"/>
<path d="M136.6 590.2 L136.0 589.9 L135.4 590.2 L134.7 592.1 L135.0 592.8 L136.0 592.6 L136.8 591.1Z" fill="#e0c6f0"/>
<path d="M139.2 574.3 L138.5 574.1 L136.3 574.9 L135.3 578.1 L137.9 581.9 L138.5 581.7 L139.4 580.6 L140.0 575.5Z" fill="#f4e7fa"/>
<path d="M126.1 568.7 L125.9 567.9 L123.5 566.4 L121.5 568.1 L121.4 569.7 L122.9 571.0 L124.6 570.9Z" fill="#e6cef3"/>
<path d="M158.9 596.4 L159.5 596.7 L161.4 596.4 L162.9 594.0 L162.7 592.3 L161.1 591.8 L157.8 593.6 L157.6 594.3Z" fill="#f4e7fa"/>
<path d="M131.9 593.9 L129.2 593.6 L127.4 595.2 L127.4 596.6 L130.1 598.2 L130.8 598.1 L132.8 595.5Z" fill="#ecd9f6"/>
<path d="M135.1 602.5 L134.7 603.4 L135.1 604.1 L137.3 604.2 L137.9 603.8 L137.7 603.0 L136.4 602.2Z" fill="#ecd9f6"/>
<path d="M146.0 565.1 L145.4 565.7 L145.3 568.2 L146.3 568.9 L146.8 568.5 L147.7 566.4 L147.0 565.2Z" fill="#e6cef3"/>
<path d="M167.4 557.9 L166.5 557.8 L165.8 559.1 L166.8 561.2 L167.4 561.6 L168.0 561.2 L168.8 559.6Z" fill="#e6cef3"/>
<path d="M139.7 582.9 L139.5 583.5 L139.9 584.0 L143.5 584.9 L144.1 584.5 L144.9 582.7 L144.3 582.1 L140.7 582.1Z" fill="#f4e7fa"/>
<path d="M118.6 570.3 L119.5 569.8 L119.6 568.3 L117.9 566.9 L117.3 566.9 L116.9 567.3 L116.4 569.6Z" fill="#d8b8ea"/>
<path d="M164.7 601.3 L165.3 602.1 L166.1 601.4 L165.5 600.7Z" fill="#ecd9f6"/>
<path d="M157.7 565.2 L158.3 564.8 L159.2 562.8 L158.4 560.4 L157.1 559.4 L154.9 561.1 L154.7 561.7 L155.3 565.0Z" fill="#ecd9f6"/>
<path d="M129.9 564.0 L129.4 563.3 L125.8 562.7 L124.7 563.5 L124.5 564.4 L127.9 567.1 L129.7 566.5Z" fill="#f4e7fa"/>
<path d="M120.4 592.3 L121.1 591.7 L120.9 589.8 L117.7 589.6 L117.2 589.9 L117.7 592.2Z" fill="#ecd9f6"/>
<path d="M149.8 568.0 L149.1 570.2 L149.6 570.5 L152.1 570.9 L152.9 570.2 L152.4 568.5 L150.5 567.8Z" fill="#e6cef3"/>
<path d="M156.5 554.8 L157.3 554.8 L158.9 553.0 L157.0 550.0 L154.4 550.9 L154.0 551.5 L154.3 553.2Z" fill="#f4e7fa"/>
<path d="M165.7 583.5 L165.4 584.3 L166.2 585.3 L168.0 584.7 L168.4 584.3 L167.6 582.7Z" fill="#e6cef3"/>
<path d="M142.3 564.8 L139.0 565.8 L138.6 567.2 L139.7 570.0 L140.4 570.3 L142.9 568.9 L143.0 565.4Z" fill="#ecd9f6"/>
<path d="M132.3 599.1 L132.5 600.1 L134.0 601.0 L134.9 600.7 L135.3 596.9 L134.2 596.7Z" fill="#ecd9f6"/>
<path d="M139.7 553.7 L138.8 553.2 L135.8 554.5 L136.8 558.5 L137.4 558.6 L140.1 557.3Z" fill="#ecd9f6"/>
<path d="M128.4 573.2 L129.1 573.3 L130.9 572.0 L130.8 568.9 L130.3 568.3 L128.0 568.8 L126.7 571.2 L126.8 571.9Z" fill="#e0c6f0"/>
<path d="M160.7 571.0 L160.8 571.7 L161.4 571.9 L165.7 571.2 L166.2 570.3 L165.0 568.5 L164.4 568.2 L161.1 570.0Z" fill="#f4e7fa"/>
<path d="M139.2 586.0 L138.5 586.2 L138.4 586.8 L140.1 589.8 L142.6 590.5 L143.2 590.3 L144.0 588.1 L143.7 587.2Z" fill="#d8b8ea"/>
<path d="M129.8 561.8 L130.4 561.6 L130.6 560.9 L129.3 557.7 L128.5 557.4 L126.2 559.3 L126.1 560.8 L126.6 561.3Z" fill="#ecd9f6"/>
<path d="M148.1 604.4 L150.2 601.9 L149.9 601.4 L147.6 601.0 L146.3 602.9 L146.9 604.2Z" fill="#e6cef3"/>
<path d="M146.2 551.1 L146.0 552.0 L147.9 555.2 L152.2 553.2 L151.9 550.7 L150.2 548.8 L149.6 548.9Z" fill="#f4e7fa"/>
<path d="M143.8 546.0 L144.9 549.0 L145.6 549.4 L149.1 547.1 L149.3 545.7 L148.8 545.0 L145.1 544.4Z" fill="#ecd9f6"/>
<path d="M142.4 555.7 L143.1 556.2 L144.6 555.5 L144.8 554.9 L144.0 553.7 L142.3 554.0Z" fill="#e0c6f0"/>
<path d="M137.7 572.5 L138.2 571.7 L136.9 568.6 L132.9 569.3 L132.9 571.5 L133.2 571.9 L135.7 573.1Z" fill="#e0c6f0"/>
<path d="M163.2 581.3 L164.0 581.6 L166.3 580.3 L166.5 579.8 L166.0 578.2 L162.6 577.4 L162.0 577.6 L161.7 578.7Z" fill="#f4e7fa"/>
<path d="M129.0 588.0 L128.4 588.8 L129.6 591.4 L131.1 591.6 L132.5 587.9 L131.8 587.5Z" fill="#e0c6f0"/>
<path d="M125.3 578.9 L125.1 579.9 L126.9 581.0 L129.1 580.4 L129.5 579.5 L128.1 577.3Z" fill="#f4e7fa"/>
<path d="M125.8 600.3 L125.9 601.2 L127.5 601.9 L128.9 600.4 L128.6 599.8 L127.2 599.1Z" fill="#d8b8ea"/>
<path d="M119.2 563.8 L119.3 564.4 L120.1 565.1 L121.3 564.4 L121.1 563.8 L120.2 563.2Z" fill="#d8b8ea"/>
<path d="M158.7 599.8 L159.4 602.1 L161.7 603.0 L162.5 602.8 L162.8 600.5 L161.4 598.7 L159.5 598.7Z" fill="#d8b8ea"/>
<path d="M168.2 565.1 L167.4 565.2 L166.8 566.2 L168.1 568.1 L168.8 568.3 L169.3 568.0 L169.9 566.5Z" fill="#e0c6f0"/>
<path d="M128.1 582.5 L127.7 583.1 L128.0 586.0 L131.5 585.5 L131.6 584.7 L129.9 582.3Z" fill="#d8b8ea"/>
<path d="M119.1 584.0 L118.4 583.5 L117.2 584.1 L117.5 586.2 L119.0 586.4 L119.6 586.1Z" fill="#d8b8ea"/>
<path d="M139.9 544.4 L139.4 545.1 L139.9 545.7 L141.9 545.6 L142.4 545.1 L141.9 544.2Z" fill="#e0c6f0"/>
<path d="M153.3 560.0 L155.9 558.0 L155.8 557.0 L153.0 555.2 L149.2 556.9 L150.0 560.0Z" fill="#ecd9f6"/>
<path d="M161.0 560.6 L160.4 561.2 L160.9 562.3 L164.5 563.7 L165.2 563.4 L165.3 562.7 L163.9 560.3Z" fill="#f4e7fa"/>
<path d="M160.3 567.3 L161.3 567.6 L163.3 566.5 L163.4 565.6 L160.5 564.6 L159.8 565.8Z" fill="#e0c6f0"/>
<path d="M152.6 549.0 L153.2 549.2 L155.2 548.5 L155.5 547.7 L153.1 546.3 L151.5 546.0 L151.1 546.4 L151.1 547.2Z" fill="#d8b8ea"/>
<path d="M136.6 548.7 L135.3 549.1 L135.3 549.7 L136.1 551.2 L136.8 551.3 L137.3 550.7 L137.0 549.1Z" fill="#d8b8ea"/>
<path d="M124.0 589.0 L123.4 589.6 L123.3 592.2 L126.0 593.6 L126.6 593.6 L127.6 592.3 L126.2 589.1 L125.6 588.8Z" fill="#d8b8ea"/>
<path d="M156.5 577.5 L156.5 578.1 L157.2 578.5 L159.9 577.5 L160.4 576.2 L159.4 573.5 L158.5 573.6Z" fill="#d8b8ea"/>
<path d="M140.4 599.1 L140.0 598.4 L137.6 597.7 L137.2 598.2 L137.2 600.7 L139.3 602.0 L139.9 602.0 L140.3 601.4Z" fill="#f4e7fa"/>
<path d="M116.9 577.1 L116.2 576.7 L115.6 577.3 L115.6 580.4 L116.2 580.9 L117.8 580.3 L118.2 579.9Z" fill="#e0c6f0"/>
<path d="M161.0 550.1 L160.4 550.1 L160.0 550.5 L160.5 551.6 L161.5 551.1Z" fill="#e0c6f0"/>
<path d="M164.0 598.8 L164.7 599.1 L166.9 598.3 L167.0 596.5 L164.6 595.4 L164.0 595.5 L163.0 597.2Z" fill="#e6cef3"/>
<path d="M150.5 562.9 L149.9 563.6 L150.4 564.8 L151.9 565.4 L152.5 565.3 L152.8 564.7 L152.4 563.1Z" fill="#ecd9f6"/>
<path d="M148.2 591.5 L148.9 591.1 L149.8 589.1 L149.7 588.5 L149.1 588.2 L145.8 588.6 L145.2 590.1 L145.3 590.7Z" fill="#e6cef3"/>
</g><g filter="url(#bl2)">
<ellipse cx="151.8" cy="601.7" rx="2.4" ry="1.9" fill="#281656" transform="rotate(83 151.8 601.7)"/>
<ellipse cx="166.5" cy="572.0" rx="2.4" ry="1.7" fill="#281656" transform="rotate(31 166.5 572.0)"/>
<ellipse cx="129.3" cy="554.8" rx="1.9" ry="1.2" fill="#1c0c38" transform="rotate(158 129.3 554.8)"/>
<ellipse cx="128.5" cy="575.8" rx="1.8" ry="1.4" fill="#1c0c38" transform="rotate(111 128.5 575.8)"/>
<ellipse cx="163.3" cy="582.9" rx="2.5" ry="2.1" fill="#2e1a5a" transform="rotate(168 163.3 582.9)"/>
<ellipse cx="172.0" cy="575.2" rx="2.3" ry="2.1" fill="#281656" transform="rotate(137 172.0 575.2)"/>
<ellipse cx="143.9" cy="564.0" rx="2.3" ry="1.7" fill="#2e1a5a" transform="rotate(31 143.9 564.0)"/>
<ellipse cx="130.6" cy="567.3" rx="1.7" ry="1.1" fill="#281656" transform="rotate(84 130.6 567.3)"/>
<ellipse cx="154.3" cy="587.6" rx="2.4" ry="1.9" fill="#1c0c38" transform="rotate(74 154.3 587.6)"/>
<ellipse cx="172.1" cy="571.6" rx="1.9" ry="1.3" fill="#2e1a5a" transform="rotate(76 172.1 571.6)"/>
<ellipse cx="159.0" cy="559.9" rx="1.9" ry="1.5" fill="#140826" transform="rotate(78 159.0 559.9)"/>
<ellipse cx="151.5" cy="595.4" rx="2.1" ry="1.7" fill="#24124a" transform="rotate(6 151.5 595.4)"/>
<ellipse cx="167.5" cy="580.6" rx="2.0" ry="1.8" fill="#24124a" transform="rotate(152 167.5 580.6)"/>
<ellipse cx="122.6" cy="571.9" rx="1.9" ry="1.7" fill="#24124a" transform="rotate(134 122.6 571.9)"/>
<ellipse cx="120.6" cy="567.7" rx="1.8" ry="1.2" fill="#281656" transform="rotate(113 120.6 567.7)"/>
<ellipse cx="155.7" cy="593.3" rx="2.2" ry="1.5" fill="#2e1a5a" transform="rotate(34 155.7 593.3)"/>
<ellipse cx="152.5" cy="572.0" rx="2.3" ry="1.7" fill="#140826" transform="rotate(119 152.5 572.0)"/>
<ellipse cx="147.4" cy="556.2" rx="1.8" ry="1.7" fill="#140826" transform="rotate(130 147.4 556.2)"/>
<ellipse cx="137.6" cy="567.1" rx="1.7" ry="1.5" fill="#1c0c38" transform="rotate(144 137.6 567.1)"/>
<ellipse cx="130.9" cy="600.3" rx="1.7" ry="1.1" fill="#1c0c38" transform="rotate(36 130.9 600.3)"/>
<ellipse cx="167.6" cy="576.0" rx="2.1" ry="1.6" fill="#2e1a5a" transform="rotate(152 167.6 576.0)"/>
<ellipse cx="135.7" cy="553.5" rx="2.2" ry="1.9" fill="#24124a" transform="rotate(166 135.7 553.5)"/>
<ellipse cx="146.8" cy="576.6" rx="2.3" ry="2.1" fill="#140826" transform="rotate(151 146.8 576.6)"/>
<ellipse cx="149.4" cy="566.3" rx="1.7" ry="1.2" fill="#2e1a5a" transform="rotate(19 149.4 566.3)"/>
<ellipse cx="159.4" cy="572.0" rx="2.3" ry="1.7" fill="#140826" transform="rotate(5 159.4 572.0)"/>
<ellipse cx="133.9" cy="595.4" rx="2.5" ry="2.3" fill="#2e1a5a" transform="rotate(122 133.9 595.4)"/>
<ellipse cx="153.2" cy="553.8" rx="1.9" ry="1.2" fill="#1c0c38" transform="rotate(131 153.2 553.8)"/>
<ellipse cx="161.2" cy="590.8" rx="2.5" ry="2.2" fill="#2e1a5a" transform="rotate(119 161.2 590.8)"/>
<ellipse cx="127.0" cy="587.2" rx="2.3" ry="1.8" fill="#2e1a5a" transform="rotate(84 127.0 587.2)"/>
<ellipse cx="163.5" cy="604.8" rx="2.5" ry="1.7" fill="#2e1a5a" transform="rotate(117 163.5 604.8)"/>
<ellipse cx="161.7" cy="576.3" rx="2.2" ry="1.7" fill="#24124a" transform="rotate(95 161.7 576.3)"/>
<ellipse cx="119.8" cy="580.6" rx="1.8" ry="1.2" fill="#24124a" transform="rotate(77 119.8 580.6)"/>
<ellipse cx="146.7" cy="581.4" rx="2.0" ry="1.4" fill="#281656" transform="rotate(106 146.7 581.4)"/>
<ellipse cx="136.2" cy="559.8" rx="2.0" ry="1.3" fill="#140826" transform="rotate(88 136.2 559.8)"/>
<ellipse cx="122.8" cy="588.2" rx="2.5" ry="1.8" fill="#2e1a5a" transform="rotate(10 122.8 588.2)"/>
<ellipse cx="166.7" cy="563.4" rx="2.3" ry="2.0" fill="#2e1a5a" transform="rotate(127 166.7 563.4)"/>
<ellipse cx="125.2" cy="559.1" rx="1.9" ry="1.8" fill="#2e1a5a" transform="rotate(163 125.2 559.1)"/>
<ellipse cx="168.0" cy="599.0" rx="1.9" ry="1.7" fill="#2e1a5a" transform="rotate(142 168.0 599.0)"/>
<ellipse cx="152.7" cy="550.4" rx="2.2" ry="2.1" fill="#281656" transform="rotate(126 152.7 550.4)"/>
<ellipse cx="143.9" cy="596.3" rx="2.3" ry="2.0" fill="#140826" transform="rotate(167 143.9 596.3)"/>
<ellipse cx="166.4" cy="555.3" rx="2.2" ry="1.9" fill="#24124a" transform="rotate(107 166.4 555.3)"/>
<ellipse cx="170.3" cy="559.2" rx="2.1" ry="1.5" fill="#281656" transform="rotate(160 170.3 559.2)"/>
<ellipse cx="147.5" cy="571.2" rx="2.1" ry="1.8" fill="#2e1a5a" transform="rotate(71 147.5 571.2)"/>
<ellipse cx="131.9" cy="572.5" rx="2.1" ry="1.8" fill="#2e1a5a" transform="rotate(149 131.9 572.5)"/>
<ellipse cx="156.2" cy="611.7" rx="2.1" ry="1.1" fill="#43306e" transform="rotate(45 156.2 611.7)"/>
<ellipse cx="110.5" cy="561.2" rx="2.1" ry="1.1" fill="#43306e" transform="rotate(159 110.5 561.2)"/>
<ellipse cx="167.3" cy="545.5" rx="2.1" ry="1.1" fill="#43306e" transform="rotate(29 167.3 545.5)"/>
<ellipse cx="178.9" cy="542.5" rx="2.1" ry="1.1" fill="#43306e" transform="rotate(14 178.9 542.5)"/>
<ellipse cx="166.7" cy="614.8" rx="2.1" ry="1.1" fill="#43306e" transform="rotate(122 166.7 614.8)"/>
<ellipse cx="125.1" cy="607.7" rx="2.1" ry="1.1" fill="#43306e" transform="rotate(98 125.1 607.7)"/>
<ellipse cx="164.7" cy="609.2" rx="2.1" ry="1.1" fill="#43306e" transform="rotate(107 164.7 609.2)"/>
<ellipse cx="170.4" cy="543.9" rx="2.1" ry="1.1" fill="#43306e" transform="rotate(146 170.4 543.9)"/>
</g>
<path d="M146.2 557.3h4.8v-2.3l4.6 3.8l-4.6 3.8v-2.3h-4.8z" fill="#000"/>
<rect x="165.0" y="610.9000000000001" width="13.2" height="3.7" fill="#000" />
</g>
<rect x="108.1" y="537.7" width="73.9" height="79.69999999999999" fill="none" stroke="#000" stroke-width="1.9" />
<clipPath id="cp6"><rect x="187.1" y="537.7" width="73.6" height="79.69999999999999"/></clipPath>
<g clip-path="url(#cp6)"><g filter="url(#bl)">
<rect x="185.1" y="535.7" width="77.6" height="83.69999999999999" fill="#cbb0da" />
<g transform="translate(187.1 537.7)"><path d="M0 0H40L14 10L0 30Z" fill="#b7a0d2"/><path d="M2 8Q14 2 30 2" stroke="#d8c4e6" stroke-width="1.5" fill="none"/><path d="M56 0H75V30Q70 10 56 0Z" fill="#c8a4d6"/><path d="M58 80Q72 66 75 44V80Z" fill="#b488c8"/><path d="M52 80Q70 68 75 40" stroke="#d8a8dc" stroke-width="1.6" fill="none"/><ellipse cx="66" cy="62" rx="2.6" ry="2.6" fill="#4a3478"/><path d="M0 46Q4 70 26 80H0Z" fill="#b898d0"/><path d="M0 40Q8 48 6 60" stroke="#d0a0d8" stroke-width="1.8" fill="none"/></g>
<path d="M254.8 576.0 L253.8 580.5 L252.2 584.7 L250.3 588.6 L248.4 592.3 L246.3 596.0 L244.1 599.5 L241.6 602.8 L238.6 605.8 L235.1 608.0 L231.3 609.6 L227.4 610.4 L223.4 610.6 L219.4 610.1 L215.6 609.2 L211.8 607.7 L208.4 605.5 L205.3 602.8 L202.6 599.5 L200.5 595.9 L198.7 592.2 L197.1 588.4 L195.6 584.4 L194.2 580.3 L193.2 576.0 L192.6 571.4 L192.9 566.7 L194.1 562.2 L196.2 558.2 L198.9 554.7 L202.0 551.8 L205.3 549.3 L208.6 547.0 L212.1 545.0 L215.6 543.2 L219.4 542.0 L223.4 541.6 L227.3 542.1 L231.1 543.6 L234.5 545.7 L237.6 548.1 L240.6 550.5 L243.6 553.1 L246.7 555.7 L249.6 558.8 L252.2 562.5 L254.1 566.7 L254.9 571.3Z" fill="#f1eaf6" stroke="#a887c9" stroke-width="1.1"/>
<clipPath id="tc6"><path d="M245.5 576.0 L245.1 579.7 L244.2 583.2 L242.9 586.6 L241.4 589.7 L239.9 592.9 L238.3 596.1 L236.6 599.5 L234.4 602.7 L231.6 605.4 L228.4 607.1 L224.9 607.5 L221.4 606.8 L218.2 605.0 L215.4 602.7 L212.9 600.4 L210.6 598.3 L208.2 596.4 L205.7 594.6 L203.3 592.5 L201.2 589.9 L199.5 586.7 L198.6 583.3 L198.3 579.6 L198.4 576.0 L198.7 572.4 L199.0 568.9 L199.4 565.2 L200.0 561.3 L201.1 557.5 L202.9 554.0 L205.3 551.0 L208.2 548.9 L211.5 547.7 L214.9 547.3 L218.2 547.3 L221.4 547.8 L224.4 548.5 L227.4 549.4 L230.2 550.7 L232.9 552.4 L235.4 554.4 L237.6 556.7 L239.6 559.4 L241.5 562.2 L243.1 565.3 L244.4 568.7 L245.2 572.3Z"/></clipPath>
<path d="M245.5 576.0 L245.1 579.7 L244.2 583.2 L242.9 586.6 L241.4 589.7 L239.9 592.9 L238.3 596.1 L236.6 599.5 L234.4 602.7 L231.6 605.4 L228.4 607.1 L224.9 607.5 L221.4 606.8 L218.2 605.0 L215.4 602.7 L212.9 600.4 L210.6 598.3 L208.2 596.4 L205.7 594.6 L203.3 592.5 L201.2 589.9 L199.5 586.7 L198.6 583.3 L198.3 579.6 L198.4 576.0 L198.7 572.4 L199.0 568.9 L199.4 565.2 L200.0 561.3 L201.1 557.5 L202.9 554.0 L205.3 551.0 L208.2 548.9 L211.5 547.7 L214.9 547.3 L218.2 547.3 L221.4 547.8 L224.4 548.5 L227.4 549.4 L230.2 550.7 L232.9 552.4 L235.4 554.4 L237.6 556.7 L239.6 559.4 L241.5 562.2 L243.1 565.3 L244.4 568.7 L245.2 572.3Z" fill="#8e56b4"/>
<g clip-path="url(#tc6)">
<ellipse cx="219.4" cy="558.4" rx="6.5" ry="5.1" fill="#b45cc0" opacity="0.6"/>
<ellipse cx="234.8" cy="574.0" rx="8.4" ry="5.8" fill="#b45cc0" opacity="0.6"/>
<ellipse cx="231.3" cy="574.3" rx="5.6" ry="4.9" fill="#8a78c8" opacity="0.6"/>
<ellipse cx="223.2" cy="582.6" rx="7.8" ry="4.3" fill="#8a78c8" opacity="0.6"/>
<ellipse cx="225.2" cy="559.9" rx="5.6" ry="4.6" fill="#9258b8" opacity="0.6"/>
<ellipse cx="211.3" cy="566.0" rx="7.0" ry="3.2" fill="#b45cc0" opacity="0.6"/>
<ellipse cx="214.9" cy="572.9" rx="8.2" ry="4.7" fill="#b45cc0" opacity="0.6"/>
<ellipse cx="230.1" cy="555.0" rx="8.4" ry="5.9" fill="#c060c4" opacity="0.6"/>
<ellipse cx="229.9" cy="599.0" rx="8.1" ry="6.3" fill="#8a78c8" opacity="0.6"/>
<ellipse cx="209.0" cy="578.5" rx="7.7" ry="4.4" fill="#7a50ac" opacity="0.6"/>
<ellipse cx="212.2" cy="574.9" rx="5.4" ry="6.5" fill="#8a78c8" opacity="0.6"/>
<ellipse cx="239.5" cy="584.6" rx="8.0" ry="3.1" fill="#9258b8" opacity="0.6"/>
</g>
<path d="M207.6 558.1 L208.2 555.2 L207.4 554.5 L204.5 554.4 L203.3 556.5 L204.5 558.1 L207.0 558.6Z" fill="#e6cef3"/>
<path d="M228.3 590.3 L228.9 591.2 L232.0 590.6 L233.2 588.4 L232.8 587.2 L232.1 586.9 L229.1 588.0Z" fill="#e6cef3"/>
<path d="M205.9 590.0 L205.5 590.5 L205.4 592.2 L206.5 593.4 L207.2 593.3 L209.2 591.7 L209.0 590.9 L207.3 589.6Z" fill="#f4e7fa"/>
<path d="M224.8 554.2 L225.0 553.3 L224.0 552.5 L222.6 552.9 L222.6 553.7 L223.7 554.5Z" fill="#f4e7fa"/>
<path d="M242.9 579.1 L243.7 578.6 L244.0 576.0 L243.9 575.0 L243.3 574.6 L240.6 576.9 L240.8 578.5Z" fill="#f4e7fa"/>
<path d="M208.8 553.0 L209.7 554.3 L211.2 554.3 L213.1 551.5 L213.1 550.8 L211.5 549.3 L210.1 549.6Z" fill="#e0c6f0"/>
<path d="M234.3 560.0 L235.2 559.8 L236.3 557.3 L234.6 555.3 L233.5 554.7 L231.3 556.0 L231.3 557.9Z" fill="#e0c6f0"/>
<path d="M204.2 560.2 L203.3 563.4 L203.8 563.7 L207.0 563.4 L208.3 561.5 L207.4 560.3 L204.7 559.8Z" fill="#d8b8ea"/>
<path d="M223.5 583.5 L224.2 583.3 L225.3 581.7 L224.5 580.1 L220.3 579.1 L218.5 580.7 L218.9 582.0Z" fill="#e0c6f0"/>
<path d="M219.6 561.1 L219.4 560.5 L217.1 558.8 L215.9 559.1 L215.9 559.8 L217.6 562.6 L219.2 562.3Z" fill="#e0c6f0"/>
<path d="M212.6 589.8 L212.7 590.4 L213.4 590.7 L216.4 589.3 L216.8 588.7 L216.4 587.5 L215.7 587.1 L213.5 587.8Z" fill="#ecd9f6"/>
<path d="M223.9 566.8 L223.4 566.4 L222.8 566.6 L219.8 570.3 L219.8 571.0 L221.2 572.3 L224.3 572.1 L225.5 570.7Z" fill="#ecd9f6"/>
<path d="M235.0 587.2 L237.2 588.2 L239.5 586.6 L239.6 586.0 L237.8 582.7 L237.0 582.8 L234.7 585.6Z" fill="#e6cef3"/>
<path d="M237.8 570.7 L237.3 571.1 L237.3 571.7 L239.6 574.3 L240.3 574.3 L242.0 572.8 L242.0 572.1 L240.4 570.2Z" fill="#e0c6f0"/>
<path d="M241.0 584.7 L241.6 585.1 L242.2 584.8 L243.3 581.3 L242.8 580.8 L239.8 580.3 L239.3 581.1Z" fill="#e0c6f0"/>
<path d="M205.4 580.9 L205.6 581.6 L207.6 583.0 L209.0 583.0 L211.4 579.9 L207.3 577.5 L206.8 577.9Z" fill="#ecd9f6"/>
<path d="M214.0 597.3 L213.0 598.1 L213.2 598.7 L214.3 599.7 L215.1 599.6 L215.4 599.0 L214.8 597.8Z" fill="#f4e7fa"/>
<path d="M214.6 593.5 L215.3 594.8 L216.0 594.7 L217.9 592.9 L217.9 592.1 L217.1 591.8 L214.9 592.9Z" fill="#e6cef3"/>
<path d="M228.0 604.6 L227.1 604.9 L227.5 605.9 L228.5 605.5Z" fill="#ecd9f6"/>
<path d="M222.4 604.2 L222.0 604.8 L222.2 605.4 L224.7 606.0 L225.2 605.7 L225.7 603.9 L225.0 603.3Z" fill="#e6cef3"/>
<path d="M217.1 597.2 L217.9 599.1 L218.5 599.0 L221.0 597.3 L221.1 596.4 L219.9 595.2 L219.2 595.2Z" fill="#d8b8ea"/>
<path d="M232.4 582.5 L233.3 582.6 L234.0 581.6 L233.7 581.0 L232.4 580.3 L231.4 581.3Z" fill="#e6cef3"/>
<path d="M219.9 553.7 L220.2 551.4 L218.6 549.9 L216.5 551.4 L218.4 554.3Z" fill="#ecd9f6"/>
<path d="M214.2 580.4 L211.3 583.7 L211.4 584.3 L212.9 585.7 L216.1 584.9 L217.0 582.8 L216.4 581.2Z" fill="#ecd9f6"/>
<path d="M229.0 566.5 L227.4 565.2 L226.3 565.9 L227.8 568.7 L229.1 568.3Z" fill="#e0c6f0"/>
<path d="M232.9 598.3 L232.6 599.0 L233.1 600.5 L234.0 600.9 L235.5 598.9 L236.1 597.5 L234.9 596.9Z" fill="#f4e7fa"/>
<path d="M228.7 561.8 L228.6 562.8 L230.5 563.9 L233.0 562.2 L233.2 561.6 L233.0 561.1 L230.8 560.0Z" fill="#f4e7fa"/>
<path d="M209.3 594.2 L209.1 595.1 L210.7 596.4 L211.3 596.4 L212.4 595.6 L211.4 592.9 L210.8 593.0Z" fill="#d8b8ea"/>
<path d="M214.7 548.6 L214.1 549.5 L215.0 550.1 L215.7 549.1Z" fill="#ecd9f6"/>
<path d="M228.0 585.8 L229.8 585.5 L230.1 584.7 L228.3 582.8 L227.3 582.8 L226.4 584.2Z" fill="#d8b8ea"/>
<path d="M231.9 571.9 L231.7 571.2 L231.0 570.8 L227.2 571.3 L226.0 572.5 L225.9 573.1 L227.2 575.3 L230.4 575.5 L230.9 575.1Z" fill="#ecd9f6"/>
<path d="M229.1 593.2 L228.6 593.6 L228.6 594.2 L231.2 596.8 L231.9 596.9 L233.0 596.0 L233.1 595.4 L232.0 592.9Z" fill="#e6cef3"/>
<path d="M200.6 568.3 L201.4 569.1 L202.1 568.7 L202.2 566.1 L201.8 565.5 L200.9 565.9Z" fill="#f4e7fa"/>
<path d="M211.2 566.5 L210.6 566.2 L210.0 566.6 L210.2 568.1 L210.6 568.5 L211.5 568.4 L211.9 568.0Z" fill="#f4e7fa"/>
<path d="M232.9 568.0 L233.5 568.6 L234.2 568.2 L234.5 565.9 L234.1 565.3 L233.5 565.3 L232.6 566.1Z" fill="#ecd9f6"/>
<path d="M217.8 572.4 L216.4 572.2 L216.2 572.8 L216.3 577.5 L216.9 578.2 L218.2 577.1 L219.0 573.9Z" fill="#f4e7fa"/>
<path d="M205.3 584.0 L204.4 584.1 L203.0 586.8 L203.2 587.5 L204.6 588.3 L206.2 587.4 L206.4 584.9Z" fill="#f4e7fa"/>
<path d="M224.9 557.9 L226.7 560.2 L227.4 560.4 L229.6 558.4 L229.5 556.4 L227.4 555.3 L225.1 557.1Z" fill="#ecd9f6"/>
<path d="M219.1 583.8 L218.3 584.0 L217.8 585.7 L218.8 589.2 L220.0 589.8 L222.0 589.1 L223.0 585.5 L222.6 584.9Z" fill="#e6cef3"/>
<path d="M200.5 578.5 L200.9 579.1 L203.1 579.3 L204.8 575.7 L204.6 575.0 L203.8 574.9 L200.8 576.6Z" fill="#ecd9f6"/>
<path d="M213.6 571.6 L212.9 570.9 L209.0 571.7 L207.0 573.3 L207.3 575.1 L212.7 578.2 L213.3 578.2 L213.7 577.6Z" fill="#d8b8ea"/>
<path d="M226.0 599.5 L226.9 599.8 L229.0 598.2 L228.8 597.6 L227.0 595.8 L226.4 595.9 L225.0 597.3Z" fill="#e6cef3"/>
<path d="M237.0 590.3 L234.8 589.5 L233.6 591.4 L235.4 595.5 L237.1 595.5 L238.3 593.3Z" fill="#f4e7fa"/>
<path d="M220.8 555.6 L218.8 556.1 L218.3 557.0 L220.9 559.1 L222.8 558.1 L223.1 557.5Z" fill="#e6cef3"/>
<path d="M237.5 579.8 L238.6 578.9 L238.6 576.5 L235.0 572.0 L234.0 571.8 L232.5 576.7Z" fill="#f4e7fa"/>
<path d="M224.1 578.0 L224.9 577.6 L225.3 575.9 L224.1 574.0 L222.0 574.1 L221.3 577.1Z" fill="#d8b8ea"/>
<path d="M228.3 601.6 L228.0 602.1 L228.2 602.7 L230.6 603.6 L231.2 603.6 L231.9 602.8 L231.2 600.5 L230.8 600.2Z" fill="#e0c6f0"/>
<path d="M222.7 591.1 L220.9 591.5 L220.7 592.8 L223.0 595.2 L223.6 595.3 L225.6 593.6 L225.8 593.0Z" fill="#e6cef3"/>
<path d="M216.9 567.6 L217.1 568.4 L218.1 568.5 L220.0 566.2 L220.0 565.4 L219.4 565.1 L218.2 565.4Z" fill="#d8b8ea"/>
<path d="M222.9 564.4 L223.8 564.5 L225.9 562.4 L223.7 559.8 L221.5 561.2 L221.4 562.8Z" fill="#e0c6f0"/>
<path d="M215.3 552.8 L214.2 552.7 L213.0 554.8 L215.6 557.0 L216.3 556.6 L216.8 555.5Z" fill="#e6cef3"/>
<path d="M208.5 585.8 L208.6 588.1 L210.1 588.9 L210.7 588.6 L211.1 587.2 L209.7 585.5 L209.1 585.3Z" fill="#f4e7fa"/>
<path d="M215.0 565.8 L216.0 563.6 L214.4 561.1 L213.8 561.0 L212.0 562.1 L212.0 562.8 L214.2 565.9Z" fill="#e6cef3"/>
<path d="M223.6 588.9 L223.9 589.7 L226.2 590.6 L226.6 590.2 L227.1 587.6 L225.4 586.0 L224.8 585.9 L224.3 586.3Z" fill="#ecd9f6"/>
<path d="M206.8 565.9 L206.1 565.3 L204.7 565.5 L204.3 566.0 L204.3 570.3 L205.6 571.6 L207.5 570.3Z" fill="#e0c6f0"/>
</g><g filter="url(#bl2)">
<ellipse cx="230.3" cy="555.6" rx="2.4" ry="1.5" fill="#140826" transform="rotate(106 230.3 555.6)"/>
<ellipse cx="213.4" cy="579.5" rx="2.3" ry="1.5" fill="#24124a" transform="rotate(3 213.4 579.5)"/>
<ellipse cx="201.4" cy="587.6" rx="2.2" ry="1.9" fill="#2e1a5a" transform="rotate(127 201.4 587.6)"/>
<ellipse cx="227.1" cy="552.9" rx="2.0" ry="1.6" fill="#24124a" transform="rotate(35 227.1 552.9)"/>
<ellipse cx="214.6" cy="568.2" rx="2.2" ry="1.9" fill="#2e1a5a" transform="rotate(131 214.6 568.2)"/>
<ellipse cx="226.0" cy="601.8" rx="2.0" ry="1.3" fill="#2e1a5a" transform="rotate(106 226.0 601.8)"/>
<ellipse cx="215.3" cy="558.2" rx="1.8" ry="1.4" fill="#2e1a5a" transform="rotate(60 215.3 558.2)"/>
<ellipse cx="204.7" cy="572.4" rx="2.0" ry="1.4" fill="#140826" transform="rotate(26 204.7 572.4)"/>
<ellipse cx="239.5" cy="579.4" rx="1.8" ry="1.6" fill="#281656" transform="rotate(141 239.5 579.4)"/>
<ellipse cx="218.7" cy="548.6" rx="2.2" ry="1.8" fill="#1c0c38" transform="rotate(23 218.7 548.6)"/>
<ellipse cx="218.6" cy="570.7" rx="1.9" ry="1.4" fill="#1c0c38" transform="rotate(83 218.6 570.7)"/>
<ellipse cx="226.9" cy="594.0" rx="2.1" ry="1.3" fill="#2e1a5a" transform="rotate(167 226.9 594.0)"/>
<ellipse cx="221.0" cy="573.2" rx="1.8" ry="1.5" fill="#24124a" transform="rotate(92 221.0 573.2)"/>
<ellipse cx="222.5" cy="589.8" rx="2.4" ry="1.5" fill="#281656" transform="rotate(132 222.5 589.8)"/>
<ellipse cx="204.3" cy="582.1" rx="2.3" ry="1.6" fill="#24124a" transform="rotate(132 204.3 582.1)"/>
<ellipse cx="237.4" cy="589.5" rx="1.9" ry="1.6" fill="#2e1a5a" transform="rotate(159 237.4 589.5)"/>
<ellipse cx="214.3" cy="551.0" rx="2.2" ry="1.6" fill="#2e1a5a" transform="rotate(20 214.3 551.0)"/>
<ellipse cx="224.0" cy="558.5" rx="2.3" ry="1.5" fill="#1c0c38" transform="rotate(9 224.0 558.5)"/>
<ellipse cx="241.2" cy="586.8" rx="1.7" ry="1.3" fill="#24124a" transform="rotate(142 241.2 586.8)"/>
<ellipse cx="227.1" cy="562.0" rx="2.4" ry="1.4" fill="#140826" transform="rotate(52 227.1 562.0)"/>
<ellipse cx="217.3" cy="580.6" rx="2.1" ry="1.8" fill="#2e1a5a" transform="rotate(114 217.3 580.6)"/>
<ellipse cx="224.1" cy="550.6" rx="2.2" ry="1.8" fill="#1c0c38" transform="rotate(112 224.1 550.6)"/>
<ellipse cx="202.2" cy="563.6" rx="1.7" ry="1.3" fill="#1c0c38" transform="rotate(31 202.2 563.6)"/>
<ellipse cx="208.7" cy="570.9" rx="2.2" ry="1.4" fill="#140826" transform="rotate(96 208.7 570.9)"/>
<ellipse cx="236.9" cy="563.2" rx="1.9" ry="1.4" fill="#24124a" transform="rotate(59 236.9 563.2)"/>
<ellipse cx="211.0" cy="591.1" rx="1.9" ry="1.5" fill="#1c0c38" transform="rotate(38 211.0 591.1)"/>
<ellipse cx="231.1" cy="598.3" rx="2.3" ry="1.9" fill="#1c0c38" transform="rotate(9 231.1 598.3)"/>
<ellipse cx="207.5" cy="584.2" rx="1.9" ry="1.2" fill="#281656" transform="rotate(95 207.5 584.2)"/>
<ellipse cx="218.2" cy="589.7" rx="2.5" ry="2.1" fill="#24124a" transform="rotate(69 218.2 589.7)"/>
<ellipse cx="226.6" cy="576.2" rx="2.0" ry="1.7" fill="#24124a" transform="rotate(30 226.6 576.2)"/>
<ellipse cx="233.3" cy="585.7" rx="2.1" ry="1.3" fill="#140826" transform="rotate(12 233.3 585.7)"/>
<ellipse cx="234.6" cy="596.2" rx="2.0" ry="1.3" fill="#24124a" transform="rotate(170 234.6 596.2)"/>
<ellipse cx="240.8" cy="568.9" rx="2.2" ry="1.8" fill="#1c0c38" transform="rotate(134 240.8 568.9)"/>
<ellipse cx="214.0" cy="596.1" rx="2.0" ry="1.6" fill="#24124a" transform="rotate(28 214.0 596.1)"/>
<ellipse cx="226.6" cy="570.6" rx="1.8" ry="1.7" fill="#2e1a5a" transform="rotate(60 226.6 570.6)"/>
<ellipse cx="233.0" cy="571.0" rx="2.0" ry="1.4" fill="#140826" transform="rotate(62 233.0 571.0)"/>
<ellipse cx="220.3" cy="563.1" rx="2.4" ry="1.7" fill="#140826" transform="rotate(106 220.3 563.1)"/>
<ellipse cx="223.3" cy="597.1" rx="2.2" ry="1.5" fill="#1c0c38" transform="rotate(154 223.3 597.1)"/>
<ellipse cx="225.3" cy="579.3" rx="2.5" ry="1.8" fill="#281656" transform="rotate(28 225.3 579.3)"/>
<ellipse cx="207.6" cy="564.0" rx="1.8" ry="1.4" fill="#140826" transform="rotate(140 207.6 564.0)"/>
<ellipse cx="222.8" cy="565.5" rx="1.8" ry="1.7" fill="#2e1a5a" transform="rotate(48 222.8 565.5)"/>
<ellipse cx="224.0" cy="584.6" rx="2.1" ry="2.0" fill="#2e1a5a" transform="rotate(3 224.0 584.6)"/>
<ellipse cx="217.9" cy="555.5" rx="2.4" ry="1.6" fill="#281656" transform="rotate(126 217.9 555.5)"/>
<ellipse cx="228.7" cy="581.6" rx="2.0" ry="1.5" fill="#24124a" transform="rotate(136 228.7 581.6)"/>
<ellipse cx="252.2" cy="550.0" rx="2.1" ry="1.1" fill="#43306e" transform="rotate(59 252.2 550.0)"/>
<ellipse cx="197.7" cy="608.7" rx="2.1" ry="1.1" fill="#43306e" transform="rotate(49 197.7 608.7)"/>
<ellipse cx="192.2" cy="612.4" rx="2.1" ry="1.1" fill="#43306e" transform="rotate(110 192.2 612.4)"/>
<ellipse cx="198.3" cy="547.1" rx="2.1" ry="1.1" fill="#43306e" transform="rotate(113 198.3 547.1)"/>
<ellipse cx="205.1" cy="613.4" rx="2.1" ry="1.1" fill="#43306e" transform="rotate(87 205.1 613.4)"/>
<ellipse cx="250.9" cy="546.3" rx="2.1" ry="1.1" fill="#43306e" transform="rotate(41 250.9 546.3)"/>
<ellipse cx="256.4" cy="590.6" rx="2.1" ry="1.1" fill="#43306e" transform="rotate(46 256.4 590.6)"/>
<ellipse cx="201.0" cy="540.9" rx="2.1" ry="1.1" fill="#43306e" transform="rotate(158 201.0 540.9)"/>
</g>
<path d="M189.3 587.9h4.8v-2.3l4.6 3.8l-4.6 3.8v-2.3h-4.8z" fill="#000"/>
<rect x="244.10000000000002" y="610.9000000000001" width="13.2" height="3.7" fill="#000" />
</g>
<rect x="187.1" y="537.7" width="73.6" height="79.69999999999999" fill="none" stroke="#000" stroke-width="1.9" />
<text x="23.6" y="493.5" font-size="11" text-anchor="middle" transform="rotate(-90 23.6 493.5)" >C</text>
<text x="23.6" y="577.7" font-size="11" text-anchor="middle" transform="rotate(-90 23.6 577.7)" >DM</text>
<text x="67" y="633.2" font-size="12.2" text-anchor="middle" >FVwt</text>
<text x="143.2" y="633.2" font-size="12.2" text-anchor="middle" >FVLr/q</text>
<text x="225.7" y="633.2" font-size="12.2" text-anchor="middle" >FVLq/q</text>
<text x="278.7" y="427.6" font-size="11.2" text-anchor="start" >E</text>
<line x1="324.7" y1="488.84999999999997" x2="324.7" y2="616.1999999999999" stroke="#000" stroke-width="1.8" />
<line x1="323.8" y1="615.3" x2="515" y2="615.3" stroke="#000" stroke-width="1.8" />
<line x1="320.2" y1="615.3" x2="324.7" y2="615.3" stroke="#000" stroke-width="1.3" />
<text x="320.09999999999997" y="618.5999999999999" font-size="9.4" text-anchor="end" >0.0</text>
<line x1="320.2" y1="590.15" x2="324.7" y2="590.15" stroke="#000" stroke-width="1.3" />
<text x="320.09999999999997" y="593.4499999999999" font-size="9.4" text-anchor="end" >0.5</text>
<line x1="320.2" y1="565.0" x2="324.7" y2="565.0" stroke="#000" stroke-width="1.3" />
<text x="320.09999999999997" y="568.3" font-size="9.4" text-anchor="end" >1.0</text>
<line x1="320.2" y1="539.8499999999999" x2="324.7" y2="539.8499999999999" stroke="#000" stroke-width="1.3" />
<text x="320.09999999999997" y="543.1499999999999" font-size="9.4" text-anchor="end" >1.5</text>
<line x1="320.2" y1="514.6999999999999" x2="324.7" y2="514.6999999999999" stroke="#000" stroke-width="1.3" />
<text x="320.09999999999997" y="517.9999999999999" font-size="9.4" text-anchor="end" >2.0</text>
<line x1="320.2" y1="489.54999999999995" x2="324.7" y2="489.54999999999995" stroke="#000" stroke-width="1.3" />
<text x="320.09999999999997" y="492.84999999999997" font-size="9.4" text-anchor="end" >2.5</text>
<text x="299" y="552.2" font-size="10.25" text-anchor="middle" transform="rotate(-90 299 552.2)" >Histological score</text>
<line x1="344.5" y1="572.5" x2="344.5" y2="569.7" stroke="#000" stroke-width="1.6" />
<line x1="339.5" y1="569.7" x2="349.5" y2="569.7" stroke="#000" stroke-width="1.6" />
<rect x="336.9" y="573.4" width="15.2" height="41.899999999999956" fill="#fff" stroke="#000" stroke-width="1.8" />
<line x1="368.5" y1="515.5" x2="368.5" y2="512.5" stroke="#000" stroke-width="1.6" />
<line x1="363.5" y1="512.5" x2="373.5" y2="512.5" stroke="#000" stroke-width="1.6" />
<rect x="360" y="515.5" width="17" height="99.79999999999995" fill="#000" />
<line x1="408.0" y1="574.5" x2="408.0" y2="572" stroke="#000" stroke-width="1.6" />
<line x1="403.0" y1="572" x2="413.0" y2="572" stroke="#000" stroke-width="1.6" />
<rect x="400.4" y="575.4" width="15.2" height="39.899999999999956" fill="#fff" stroke="#000" stroke-width="1.8" />
<line x1="432.25" y1="557" x2="432.25" y2="554.5" stroke="#000" stroke-width="1.6" />
<line x1="427.25" y1="554.5" x2="437.25" y2="554.5" stroke="#000" stroke-width="1.6" />
<rect x="423.5" y="557" width="17.5" height="58.299999999999955" fill="#000" />
<line x1="471.5" y1="569" x2="471.5" y2="566.5" stroke="#000" stroke-width="1.6" />
<line x1="466.5" y1="566.5" x2="476.5" y2="566.5" stroke="#000" stroke-width="1.6" />
<rect x="463.9" y="569.9" width="15.2" height="45.399999999999956" fill="#fff" stroke="#000" stroke-width="1.8" />
<line x1="495.5" y1="543.5" x2="495.5" y2="540.5" stroke="#000" stroke-width="1.6" />
<line x1="490.5" y1="540.5" x2="500.5" y2="540.5" stroke="#000" stroke-width="1.6" />
<rect x="487" y="543.5" width="17" height="71.79999999999995" fill="#000" />
<text x="356" y="628.6" font-size="9.7" text-anchor="middle" >FVwt</text>
<text x="420" y="628.6" font-size="9.7" text-anchor="middle" >FVLr/q</text>
<text x="483.75" y="628.6" font-size="9.7" text-anchor="middle" >FVLq/q</text>
<polyline points="367.3,472.2 367.3,457.2 420.3,457.2" fill="none" stroke="#000" stroke-width="1.75" stroke-linejoin="miter" />
<polyline points="440.5,457.2 493.5,457.2 493.5,470.5" fill="none" stroke="#000" stroke-width="1.75" stroke-linejoin="miter" />
<text x="426.08" y="462.83" font-size="11.6" text-anchor="start" letter-spacing="1.6">**</text>
<polyline points="367.3,491 367.3,476.6 389.6,476.6" fill="none" stroke="#000" stroke-width="1.75" stroke-linejoin="miter" />
<polyline points="409.2,476.6 431.4,476.6 431.4,490.4" fill="none" stroke="#000" stroke-width="1.75" stroke-linejoin="miter" />
<text x="395.38" y="482.23" font-size="11.6" text-anchor="start" letter-spacing="1.6">**</text>
<polyline points="341.5,509.2 341.5,495.5 347.8,495.5" fill="none" stroke="#000" stroke-width="1.75" stroke-linejoin="miter" />
<polyline points="361.2,495.5 368.1,495.5 368.1,509.9" fill="none" stroke="#000" stroke-width="1.75" stroke-linejoin="miter" />
<text x="350.18" y="500.33" font-size="11.6" text-anchor="start" letter-spacing="1.6">**</text>
<polyline points="404.9,509.2 404.9,495.3 412.6,495.3" fill="none" stroke="#000" stroke-width="1.75" stroke-linejoin="miter" />
<polyline points="424.7,495.3 431.4,495.3 431.4,509.2" fill="none" stroke="#000" stroke-width="1.75" stroke-linejoin="miter" />
<text x="413.78" y="500.53" font-size="11.6" text-anchor="start" letter-spacing="1.6">**</text>
<polyline points="467,509.2 467,495.3 474.7,495.3" fill="none" stroke="#000" stroke-width="1.75" stroke-linejoin="miter" />
<polyline points="486.8,495.3 493.5,495.3 493.5,509.2" fill="none" stroke="#000" stroke-width="1.75" stroke-linejoin="miter" />
<text x="475.28" y="500.53" font-size="11.6" text-anchor="start" letter-spacing="1.6">**</text>
</svg>
</body></html>
